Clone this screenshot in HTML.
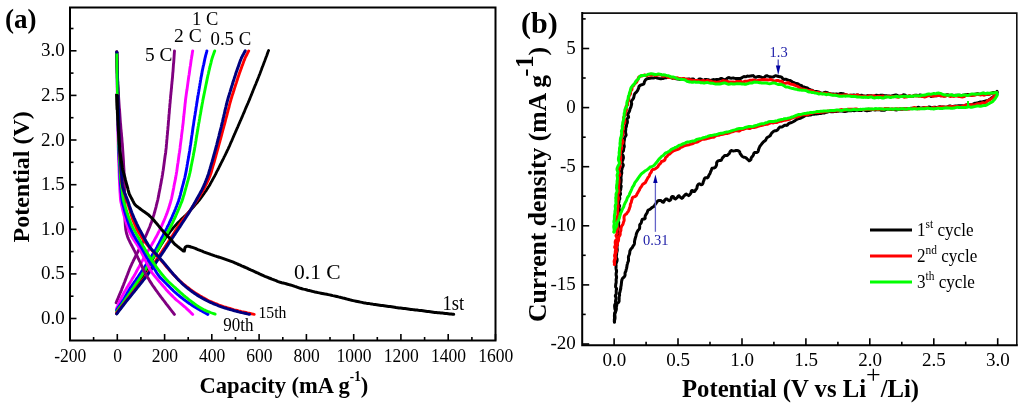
<!DOCTYPE html>
<html><head><meta charset="utf-8"><style>
html,body{margin:0;padding:0;background:#fff;width:1024px;height:407px;overflow:hidden}
svg{display:block;will-change:transform}
text{font-family:"Liberation Serif",serif;fill:#000}
</style></head><body>
<svg width="1024" height="407" viewBox="0 0 1024 407">
<rect x="70.0" y="7.5" width="425.5" height="333.0" fill="none" stroke="#000" stroke-width="2"/>
<line x1="70.0" y1="340.5" x2="70.0" y2="334.0" stroke="#000" stroke-width="1.6"/>
<text transform="translate(70.30,361.50) scale(0.950,1)" font-size="18.50" text-anchor="middle">-200</text>
<line x1="93.6" y1="340.5" x2="93.6" y2="337.0" stroke="#000" stroke-width="1.6"/>
<line x1="117.3" y1="340.5" x2="117.3" y2="334.0" stroke="#000" stroke-width="1.6"/>
<text transform="translate(117.58,361.50) scale(0.950,1)" font-size="18.50" text-anchor="middle">0</text>
<line x1="140.9" y1="340.5" x2="140.9" y2="337.0" stroke="#000" stroke-width="1.6"/>
<line x1="164.6" y1="340.5" x2="164.6" y2="334.0" stroke="#000" stroke-width="1.6"/>
<text transform="translate(164.86,361.50) scale(0.950,1)" font-size="18.50" text-anchor="middle">200</text>
<line x1="188.2" y1="340.5" x2="188.2" y2="337.0" stroke="#000" stroke-width="1.6"/>
<line x1="211.8" y1="340.5" x2="211.8" y2="334.0" stroke="#000" stroke-width="1.6"/>
<text transform="translate(212.13,361.50) scale(0.950,1)" font-size="18.50" text-anchor="middle">400</text>
<line x1="235.5" y1="340.5" x2="235.5" y2="337.0" stroke="#000" stroke-width="1.6"/>
<line x1="259.1" y1="340.5" x2="259.1" y2="334.0" stroke="#000" stroke-width="1.6"/>
<text transform="translate(259.41,361.50) scale(0.950,1)" font-size="18.50" text-anchor="middle">600</text>
<line x1="282.8" y1="340.5" x2="282.8" y2="337.0" stroke="#000" stroke-width="1.6"/>
<line x1="306.4" y1="340.5" x2="306.4" y2="334.0" stroke="#000" stroke-width="1.6"/>
<text transform="translate(306.69,361.50) scale(0.950,1)" font-size="18.50" text-anchor="middle">800</text>
<line x1="330.0" y1="340.5" x2="330.0" y2="337.0" stroke="#000" stroke-width="1.6"/>
<line x1="353.7" y1="340.5" x2="353.7" y2="334.0" stroke="#000" stroke-width="1.6"/>
<text transform="translate(353.97,361.50) scale(0.950,1)" font-size="18.50" text-anchor="middle">1000</text>
<line x1="377.3" y1="340.5" x2="377.3" y2="337.0" stroke="#000" stroke-width="1.6"/>
<line x1="400.9" y1="340.5" x2="400.9" y2="334.0" stroke="#000" stroke-width="1.6"/>
<text transform="translate(401.24,361.50) scale(0.950,1)" font-size="18.50" text-anchor="middle">1200</text>
<line x1="424.6" y1="340.5" x2="424.6" y2="337.0" stroke="#000" stroke-width="1.6"/>
<line x1="448.2" y1="340.5" x2="448.2" y2="334.0" stroke="#000" stroke-width="1.6"/>
<text transform="translate(448.52,361.50) scale(0.950,1)" font-size="18.50" text-anchor="middle">1400</text>
<line x1="471.9" y1="340.5" x2="471.9" y2="337.0" stroke="#000" stroke-width="1.6"/>
<line x1="495.5" y1="340.5" x2="495.5" y2="334.0" stroke="#000" stroke-width="1.6"/>
<text transform="translate(495.80,361.50) scale(0.950,1)" font-size="18.50" text-anchor="middle">1600</text>
<line x1="70.0" y1="318.5" x2="76.5" y2="318.5" stroke="#000" stroke-width="1.6"/>
<text transform="translate(64.80,324.00) scale(1.000,1)" font-size="19.00" text-anchor="end">0.0</text>
<line x1="70.0" y1="296.2" x2="73.5" y2="296.2" stroke="#000" stroke-width="1.6"/>
<line x1="70.0" y1="273.9" x2="76.5" y2="273.9" stroke="#000" stroke-width="1.6"/>
<text transform="translate(64.80,279.38) scale(1.000,1)" font-size="19.00" text-anchor="end">0.5</text>
<line x1="70.0" y1="251.6" x2="73.5" y2="251.6" stroke="#000" stroke-width="1.6"/>
<line x1="70.0" y1="229.3" x2="76.5" y2="229.3" stroke="#000" stroke-width="1.6"/>
<text transform="translate(64.80,234.77) scale(1.000,1)" font-size="19.00" text-anchor="end">1.0</text>
<line x1="70.0" y1="207.0" x2="73.5" y2="207.0" stroke="#000" stroke-width="1.6"/>
<line x1="70.0" y1="184.7" x2="76.5" y2="184.7" stroke="#000" stroke-width="1.6"/>
<text transform="translate(64.80,190.15) scale(1.000,1)" font-size="19.00" text-anchor="end">1.5</text>
<line x1="70.0" y1="162.3" x2="73.5" y2="162.3" stroke="#000" stroke-width="1.6"/>
<line x1="70.0" y1="140.0" x2="76.5" y2="140.0" stroke="#000" stroke-width="1.6"/>
<text transform="translate(64.80,145.53) scale(1.000,1)" font-size="19.00" text-anchor="end">2.0</text>
<line x1="70.0" y1="117.7" x2="73.5" y2="117.7" stroke="#000" stroke-width="1.6"/>
<line x1="70.0" y1="95.4" x2="76.5" y2="95.4" stroke="#000" stroke-width="1.6"/>
<text transform="translate(64.80,100.92) scale(1.000,1)" font-size="19.00" text-anchor="end">2.5</text>
<line x1="70.0" y1="73.1" x2="73.5" y2="73.1" stroke="#000" stroke-width="1.6"/>
<line x1="70.0" y1="50.8" x2="76.5" y2="50.8" stroke="#000" stroke-width="1.6"/>
<text transform="translate(64.80,56.30) scale(1.000,1)" font-size="19.00" text-anchor="end">3.0</text>
<line x1="70.0" y1="28.5" x2="73.5" y2="28.5" stroke="#000" stroke-width="1.6"/>
<path d="M582.2,13.1 L1016.8,13.1 L1016.8,345.2" fill="none" stroke="#111" stroke-width="1.6" stroke-linejoin="miter"/>
<path d="M582.2,13.1 L582.2,345.2 L1016.8,345.2" fill="none" stroke="#000" stroke-width="2" stroke-linecap="square"/>
<line x1="614.1" y1="345.2" x2="614.1" y2="338.2" stroke="#000" stroke-width="1.6"/>
<text transform="translate(614.30,366.30) scale(1.000,1)" font-size="19.00" text-anchor="middle">0.0</text>
<line x1="646.1" y1="345.2" x2="646.1" y2="341.7" stroke="#000" stroke-width="1.6"/>
<line x1="678.0" y1="345.2" x2="678.0" y2="338.2" stroke="#000" stroke-width="1.6"/>
<text transform="translate(678.23,366.30) scale(1.000,1)" font-size="19.00" text-anchor="middle">0.5</text>
<line x1="710.0" y1="345.2" x2="710.0" y2="341.7" stroke="#000" stroke-width="1.6"/>
<line x1="742.0" y1="345.2" x2="742.0" y2="338.2" stroke="#000" stroke-width="1.6"/>
<text transform="translate(742.17,366.30) scale(1.000,1)" font-size="19.00" text-anchor="middle">1.0</text>
<line x1="773.9" y1="345.2" x2="773.9" y2="341.7" stroke="#000" stroke-width="1.6"/>
<line x1="805.9" y1="345.2" x2="805.9" y2="338.2" stroke="#000" stroke-width="1.6"/>
<text transform="translate(806.10,366.30) scale(1.000,1)" font-size="19.00" text-anchor="middle">1.5</text>
<line x1="837.9" y1="345.2" x2="837.9" y2="341.7" stroke="#000" stroke-width="1.6"/>
<line x1="869.8" y1="345.2" x2="869.8" y2="338.2" stroke="#000" stroke-width="1.6"/>
<text transform="translate(870.03,366.30) scale(1.000,1)" font-size="19.00" text-anchor="middle">2.0</text>
<line x1="901.8" y1="345.2" x2="901.8" y2="341.7" stroke="#000" stroke-width="1.6"/>
<line x1="933.8" y1="345.2" x2="933.8" y2="338.2" stroke="#000" stroke-width="1.6"/>
<text transform="translate(933.97,366.30) scale(1.000,1)" font-size="19.00" text-anchor="middle">2.5</text>
<line x1="965.7" y1="345.2" x2="965.7" y2="341.7" stroke="#000" stroke-width="1.6"/>
<line x1="997.7" y1="345.2" x2="997.7" y2="338.2" stroke="#000" stroke-width="1.6"/>
<text transform="translate(997.90,366.30) scale(1.000,1)" font-size="19.00" text-anchor="middle">3.0</text>
<line x1="582.2" y1="344.0" x2="589.2" y2="344.0" stroke="#000" stroke-width="1.6"/>
<text transform="translate(575.80,349.40) scale(1.000,1)" font-size="19.00" text-anchor="end">-20</text>
<line x1="582.2" y1="314.4" x2="585.7" y2="314.4" stroke="#000" stroke-width="1.6"/>
<line x1="582.2" y1="284.9" x2="589.2" y2="284.9" stroke="#000" stroke-width="1.6"/>
<text transform="translate(575.80,290.30) scale(1.000,1)" font-size="19.00" text-anchor="end">-15</text>
<line x1="582.2" y1="255.3" x2="585.7" y2="255.3" stroke="#000" stroke-width="1.6"/>
<line x1="582.2" y1="225.8" x2="589.2" y2="225.8" stroke="#000" stroke-width="1.6"/>
<text transform="translate(575.80,231.20) scale(1.000,1)" font-size="19.00" text-anchor="end">-10</text>
<line x1="582.2" y1="196.2" x2="585.7" y2="196.2" stroke="#000" stroke-width="1.6"/>
<line x1="582.2" y1="166.7" x2="589.2" y2="166.7" stroke="#000" stroke-width="1.6"/>
<text transform="translate(575.80,172.10) scale(1.000,1)" font-size="19.00" text-anchor="end">-5</text>
<line x1="582.2" y1="137.2" x2="585.7" y2="137.2" stroke="#000" stroke-width="1.6"/>
<line x1="582.2" y1="107.6" x2="589.2" y2="107.6" stroke="#000" stroke-width="1.6"/>
<text transform="translate(575.80,113.00) scale(1.000,1)" font-size="19.00" text-anchor="end">0</text>
<line x1="582.2" y1="78.0" x2="585.7" y2="78.0" stroke="#000" stroke-width="1.6"/>
<line x1="582.2" y1="48.5" x2="589.2" y2="48.5" stroke="#000" stroke-width="1.6"/>
<text transform="translate(575.80,53.90) scale(1.000,1)" font-size="19.00" text-anchor="end">5</text>
<line x1="582.2" y1="18.9" x2="585.7" y2="18.9" stroke="#000" stroke-width="1.6"/>
<path d="M116.7,313.8 L117.5,312.6 L118.4,311.3 L119.2,310.1 L120.1,308.8 L120.9,307.6 L121.8,306.3 L122.6,305.1 L123.4,303.8 L124.3,302.6 L125.1,301.4 L126.0,300.1 L126.9,298.9 L127.7,297.6 L128.6,296.4 L129.4,295.2 L130.3,293.9 L131.1,292.7 L132.0,291.5 L132.9,290.2 L133.7,289.0 L134.6,287.7 L135.4,286.5 L136.3,285.3 L137.2,284.1 L138.0,282.8 L138.9,281.6 L139.8,280.4 L140.6,279.1 L141.5,277.9 L142.3,276.6 L143.1,275.4 L143.9,274.1 L144.7,272.8 L145.5,271.5 L146.2,270.2 L147.0,268.9 L147.8,267.6 L148.5,266.3 L149.3,265.0 L150.0,263.7 L150.8,262.4 L151.5,261.1 L152.3,259.8 L153.0,258.5 L153.8,257.2 L154.6,255.9 L155.3,254.6 L156.1,253.3 L156.8,252.0 L157.6,250.7 L158.4,249.4 L159.2,248.1 L159.9,246.9 L160.7,245.6 L161.5,244.3 L162.3,243.0 L163.1,241.7 L163.9,240.5 L164.7,239.2 L165.5,237.9 L166.4,236.7 L167.3,235.5 L168.2,234.3 L169.1,233.1 L170.0,231.9 L171.0,230.7 L171.9,229.6 L172.8,228.4 L173.8,227.2 L174.8,226.1 L175.8,225.0 L176.8,223.9 L177.8,222.8 L178.9,221.7 L180.0,220.7 L181.1,219.6 L182.1,218.6 L183.2,217.6 L184.3,216.5 L185.4,215.5 L186.5,214.4 L187.5,213.4 L188.6,212.3 L189.6,211.2 L190.6,210.1 L191.6,209.0 L192.6,207.8 L193.6,206.7 L194.6,205.6 L195.6,204.4 L196.6,203.3 L197.6,202.2 L198.5,201.0 L199.5,199.8 L200.4,198.6 L201.3,197.4 L202.2,196.2 L203.0,195.0 L203.9,193.8 L204.8,192.5 L205.6,191.3 L206.5,190.1 L207.3,188.8 L208.1,187.5 L208.9,186.3 L209.7,185.0 L210.4,183.6 L211.1,182.3 L211.9,181.0 L212.6,179.7 L213.3,178.4 L214.0,177.1 L214.8,175.7 L215.5,174.4 L216.1,173.1 L216.8,171.7 L217.5,170.4 L218.2,169.0 L218.9,167.7 L219.5,166.4 L220.2,165.0 L220.9,163.7 L221.5,162.3 L222.2,161.0 L222.9,159.6 L223.6,158.3 L224.2,156.9 L224.9,155.6 L225.6,154.2 L226.2,152.9 L226.9,151.5 L227.5,150.2 L228.2,148.8 L228.8,147.4 L229.4,146.1 L230.0,144.7 L230.6,143.3 L231.2,141.9 L231.8,140.6 L232.4,139.2 L233.0,137.8 L233.6,136.4 L234.2,135.0 L234.8,133.7 L235.4,132.3 L236.0,130.9 L236.6,129.5 L237.2,128.1 L237.8,126.8 L238.4,125.4 L239.0,124.0 L239.6,122.6 L240.2,121.2 L240.8,119.9 L241.4,118.5 L242.0,117.1 L242.6,115.7 L243.2,114.3 L243.8,112.9 L244.4,111.6 L244.9,110.2 L245.5,108.8 L246.1,107.4 L246.7,106.0 L247.3,104.6 L247.9,103.3 L248.5,101.9 L249.1,100.5 L249.7,99.1 L250.2,97.7 L250.8,96.3 L251.4,94.9 L251.9,93.5 L252.5,92.1 L253.0,90.7 L253.6,89.3 L254.2,87.9 L254.7,86.5 L255.3,85.1 L255.9,83.8 L256.4,82.4 L257.0,81.0 L257.6,79.6 L258.1,78.2 L258.7,76.8 L259.2,75.4 L259.8,74.0 L260.3,72.6 L260.8,71.2 L261.4,69.8 L261.9,68.3 L262.4,66.9 L263.0,65.5 L263.5,64.1 L264.0,62.7 L264.6,61.3 L265.1,59.9 L265.6,58.5 L266.1,57.1 L266.7,55.7 L267.2,54.3 L267.7,52.8 L268.2,51.4 L268.6,50.5" fill="none" stroke="#000" stroke-width="2.8" stroke-linecap="round" stroke-linejoin="round"/>
<path d="M116.1,302.7 L116.7,301.3 L117.3,299.9 L117.9,298.5 L118.5,297.2 L119.0,295.8 L119.6,294.4 L120.2,293.0 L120.8,291.6 L121.4,290.2 L121.9,288.8 L122.5,287.4 L123.0,286.0 L123.6,284.6 L124.1,283.2 L124.7,281.8 L125.2,280.4 L125.7,279.0 L126.3,277.6 L126.8,276.2 L127.4,274.8 L127.9,273.4 L128.4,272.0 L129.0,270.6 L129.5,269.2 L130.1,267.8 L130.7,266.4 L131.3,265.1 L131.9,263.7 L132.6,262.3 L133.2,261.0 L133.9,259.6 L134.6,258.3 L135.2,257.0 L135.9,255.6 L136.6,254.3 L137.3,252.9 L138.0,251.6 L138.6,250.2 L139.3,248.9 L140.0,247.6 L140.7,246.2 L141.4,244.9 L142.0,243.5 L142.7,242.2 L143.4,240.8 L144.0,239.5 L144.7,238.1 L145.4,236.8 L146.0,235.4 L146.6,234.1 L147.2,232.7 L147.8,231.3 L148.4,229.9 L149.0,228.5 L149.6,227.1 L150.1,225.8 L150.6,224.3 L151.2,222.9 L151.7,221.5 L152.1,220.1 L152.6,218.7 L153.1,217.2 L153.5,215.8 L154.0,214.4 L154.4,212.9 L154.8,211.5 L155.2,210.0 L155.6,208.6 L156.0,207.1 L156.3,205.7 L156.7,204.2 L157.1,202.7 L157.4,201.3 L157.8,199.8 L158.1,198.3 L158.4,196.9 L158.7,195.4 L158.9,193.9 L159.2,192.4 L159.5,191.0 L159.8,189.5 L160.1,188.0 L160.3,186.5 L160.6,185.1 L160.9,183.6 L161.2,182.1 L161.4,180.6 L161.7,179.1 L162.0,177.7 L162.2,176.2 L162.5,174.7 L162.7,173.2 L162.9,171.7 L163.2,170.2 L163.4,168.7 L163.6,167.3 L163.8,165.8 L164.0,164.3 L164.2,162.8 L164.4,161.3 L164.6,159.8 L164.8,158.3 L165.0,156.8 L165.2,155.3 L165.5,153.9 L165.7,152.4 L165.8,150.9 L166.0,149.4 L166.2,147.9 L166.3,146.4 L166.4,144.9 L166.6,143.4 L166.7,141.9 L166.8,140.4 L167.0,138.9 L167.1,137.4 L167.2,135.9 L167.4,134.4 L167.5,132.9 L167.6,131.4 L167.8,129.9 L167.9,128.4 L168.0,126.9 L168.2,125.4 L168.3,123.9 L168.4,122.4 L168.5,120.9 L168.7,119.4 L168.8,117.9 L168.9,116.4 L169.0,114.9 L169.2,113.4 L169.3,111.9 L169.4,110.4 L169.5,108.9 L169.7,107.4 L169.8,105.9 L169.9,104.4 L170.1,102.9 L170.2,101.4 L170.3,99.9 L170.5,98.4 L170.6,96.9 L170.7,95.5 L170.9,94.0 L171.0,92.5 L171.2,91.0 L171.3,89.5 L171.5,88.0 L171.6,86.5 L171.7,85.0 L171.9,83.5 L172.0,82.0 L172.2,80.5 L172.3,79.0 L172.5,77.5 L172.6,76.0 L172.7,74.5 L172.8,73.0 L173.0,71.5 L173.1,70.0 L173.2,68.5 L173.3,67.0 L173.4,65.5 L173.5,64.0 L173.7,62.5 L173.8,61.0 L173.9,59.5 L174.0,58.0 L174.1,56.5 L174.2,55.0 L174.3,53.5 L174.4,52.0 L174.5,51.0" fill="none" stroke="#800080" stroke-width="2.9" stroke-linecap="round" stroke-linejoin="round"/>
<path d="M116.7,308.3 L117.3,306.9 L117.9,305.5 L118.4,304.1 L119.0,302.7 L119.6,301.4 L120.2,300.0 L120.9,298.6 L121.5,297.3 L122.2,296.0 L123.0,294.6 L123.7,293.3 L124.4,292.0 L125.2,290.7 L126.0,289.4 L126.7,288.1 L127.5,286.8 L128.3,285.6 L129.0,284.3 L129.8,283.0 L130.6,281.7 L131.4,280.4 L132.1,279.1 L132.9,277.8 L133.7,276.5 L134.4,275.2 L135.2,273.9 L135.9,272.6 L136.6,271.3 L137.3,269.9 L138.0,268.6 L138.8,267.3 L139.5,266.0 L140.2,264.6 L140.9,263.3 L141.6,262.0 L142.4,260.7 L143.1,259.4 L143.9,258.1 L144.7,256.8 L145.4,255.5 L146.2,254.2 L147.0,252.9 L147.7,251.6 L148.5,250.3 L149.3,249.0 L150.0,247.7 L150.8,246.4 L151.5,245.1 L152.3,243.8 L153.0,242.5 L153.8,241.2 L154.5,239.9 L155.2,238.6 L156.0,237.3 L156.7,235.9 L157.4,234.6 L158.1,233.3 L158.7,231.9 L159.4,230.6 L160.1,229.2 L160.7,227.9 L161.4,226.5 L162.0,225.2 L162.6,223.8 L163.2,222.4 L163.8,221.0 L164.4,219.6 L165.0,218.2 L165.5,216.8 L166.1,215.5 L166.6,214.1 L167.2,212.6 L167.7,211.2 L168.2,209.8 L168.6,208.4 L169.1,207.0 L169.5,205.5 L170.0,204.1 L170.4,202.6 L170.8,201.2 L171.2,199.7 L171.6,198.3 L171.9,196.8 L172.2,195.3 L172.5,193.9 L172.8,192.4 L173.1,190.9 L173.4,189.4 L173.7,188.0 L173.9,186.5 L174.2,185.0 L174.5,183.5 L174.8,182.1 L175.1,180.6 L175.4,179.1 L175.7,177.6 L175.9,176.1 L176.2,174.7 L176.4,173.2 L176.7,171.7 L176.9,170.2 L177.1,168.7 L177.3,167.2 L177.5,165.7 L177.7,164.2 L178.0,162.8 L178.2,161.3 L178.4,159.8 L178.6,158.3 L178.8,156.8 L179.0,155.3 L179.2,153.8 L179.5,152.3 L179.7,150.8 L179.9,149.4 L180.1,147.9 L180.2,146.4 L180.4,144.9 L180.6,143.4 L180.8,141.9 L181.0,140.4 L181.2,138.9 L181.4,137.4 L181.5,135.9 L181.7,134.4 L181.9,132.9 L182.1,131.4 L182.3,129.9 L182.5,128.4 L182.6,127.0 L182.8,125.5 L183.0,124.0 L183.2,122.5 L183.3,121.0 L183.5,119.5 L183.6,118.0 L183.8,116.5 L183.9,115.0 L184.1,113.5 L184.3,112.0 L184.4,110.5 L184.6,109.0 L184.7,107.5 L184.9,106.0 L185.0,104.5 L185.2,103.0 L185.4,101.5 L185.5,100.0 L185.7,98.5 L185.9,97.0 L186.1,95.6 L186.3,94.1 L186.5,92.6 L186.7,91.1 L187.0,89.6 L187.2,88.1 L187.4,86.6 L187.6,85.1 L187.8,83.6 L188.0,82.1 L188.2,80.7 L188.4,79.2 L188.6,77.7 L188.8,76.2 L189.1,74.7 L189.3,73.2 L189.5,71.7 L189.7,70.2 L189.9,68.7 L190.1,67.3 L190.4,65.8 L190.6,64.3 L190.8,62.8 L191.0,61.3 L191.2,59.8 L191.5,58.3 L191.7,56.8 L192.0,55.4 L192.2,53.9 L192.4,52.4 L192.7,50.9" fill="none" stroke="#ff00ff" stroke-width="2.9" stroke-linecap="round" stroke-linejoin="round"/>
<path d="M116.5,310.1 L117.4,308.9 L118.2,307.6 L119.1,306.4 L119.9,305.2 L120.8,303.9 L121.6,302.7 L122.4,301.4 L123.3,300.1 L124.0,298.9 L124.8,297.6 L125.5,296.2 L126.2,294.9 L127.0,293.6 L127.7,292.3 L128.5,291.0 L129.2,289.7 L130.0,288.4 L130.9,287.2 L131.7,286.0 L132.6,284.7 L133.4,283.5 L134.3,282.2 L135.1,281.0 L136.0,279.8 L136.8,278.5 L137.7,277.3 L138.6,276.0 L139.4,274.8 L140.2,273.6 L141.1,272.3 L141.9,271.0 L142.7,269.8 L143.5,268.5 L144.4,267.3 L145.2,266.0 L146.0,264.7 L146.8,263.5 L147.6,262.2 L148.5,261.0 L149.3,259.7 L150.1,258.4 L150.9,257.2 L151.7,255.9 L152.5,254.6 L153.3,253.4 L154.1,252.1 L154.9,250.8 L155.7,249.5 L156.4,248.2 L157.1,246.9 L157.8,245.5 L158.5,244.2 L159.2,242.9 L159.9,241.5 L160.6,240.2 L161.2,238.8 L161.9,237.5 L162.6,236.2 L163.3,234.8 L164.0,233.5 L164.7,232.2 L165.4,230.8 L166.1,229.5 L166.8,228.1 L167.4,226.8 L168.1,225.5 L168.8,224.1 L169.4,222.7 L170.0,221.4 L170.7,220.0 L171.3,218.6 L171.9,217.3 L172.5,215.9 L173.1,214.5 L173.7,213.1 L174.3,211.8 L174.9,210.4 L175.5,209.0 L176.0,207.6 L176.6,206.2 L177.1,204.8 L177.7,203.4 L178.2,202.0 L178.7,200.5 L179.1,199.1 L179.6,197.7 L180.0,196.2 L180.4,194.8 L180.7,193.3 L181.1,191.9 L181.5,190.4 L181.9,189.0 L182.2,187.5 L182.6,186.0 L183.0,184.6 L183.4,183.1 L183.8,181.7 L184.1,180.2 L184.5,178.8 L184.9,177.3 L185.2,175.8 L185.5,174.4 L185.8,172.9 L186.1,171.4 L186.4,169.9 L186.6,168.5 L186.9,167.0 L187.1,165.5 L187.4,164.0 L187.6,162.5 L187.9,161.0 L188.2,159.6 L188.4,158.1 L188.7,156.6 L188.9,155.1 L189.2,153.6 L189.4,152.1 L189.7,150.7 L189.9,149.2 L190.1,147.7 L190.3,146.2 L190.6,144.7 L190.8,143.2 L191.0,141.7 L191.2,140.2 L191.4,138.8 L191.6,137.3 L191.8,135.8 L192.1,134.3 L192.3,132.8 L192.5,131.3 L192.7,129.8 L192.9,128.3 L193.1,126.8 L193.4,125.4 L193.6,123.9 L193.8,122.4 L194.0,120.9 L194.3,119.4 L194.5,117.9 L194.7,116.4 L195.0,115.0 L195.2,113.5 L195.4,112.0 L195.7,110.5 L195.9,109.0 L196.1,107.5 L196.4,106.0 L196.6,104.5 L196.8,103.1 L197.1,101.6 L197.3,100.1 L197.5,98.6 L197.8,97.1 L198.0,95.6 L198.3,94.2 L198.5,92.7 L198.8,91.2 L199.0,89.7 L199.3,88.2 L199.5,86.7 L199.8,85.3 L200.0,83.8 L200.3,82.3 L200.5,80.8 L200.8,79.3 L201.0,77.8 L201.3,76.4 L201.6,74.9 L201.9,73.4 L202.1,71.9 L202.4,70.4 L202.7,69.0 L203.0,67.5 L203.3,66.0 L203.7,64.6 L204.0,63.1 L204.3,61.6 L204.6,60.1 L204.9,58.7 L205.3,57.2 L205.6,55.7 L206.0,54.3 L206.4,52.8 L206.8,51.4 L206.9,50.9" fill="none" stroke="#0000ff" stroke-width="2.9" stroke-linecap="round" stroke-linejoin="round"/>
<path d="M116.7,311.5 L117.6,310.3 L118.5,309.1 L119.4,307.9 L120.3,306.7 L121.2,305.5 L122.1,304.3 L123.0,303.0 L123.8,301.8 L124.7,300.6 L125.6,299.4 L126.4,298.1 L127.3,296.9 L128.1,295.7 L129.0,294.4 L129.8,293.2 L130.7,291.9 L131.5,290.7 L132.4,289.4 L133.2,288.2 L134.0,287.0 L134.9,285.7 L135.7,284.4 L136.5,283.2 L137.4,281.9 L138.2,280.7 L139.0,279.4 L139.9,278.2 L140.7,276.9 L141.5,275.7 L142.3,274.4 L143.2,273.2 L144.0,271.9 L144.8,270.6 L145.6,269.4 L146.4,268.1 L147.2,266.8 L148.0,265.6 L148.8,264.3 L149.6,263.0 L150.4,261.8 L151.2,260.5 L152.0,259.2 L152.8,257.9 L153.6,256.7 L154.4,255.4 L155.2,254.1 L156.0,252.8 L156.8,251.6 L157.6,250.3 L158.3,249.0 L159.1,247.7 L159.8,246.4 L160.5,245.0 L161.3,243.7 L162.0,242.4 L162.7,241.1 L163.5,239.8 L164.2,238.5 L164.9,237.2 L165.6,235.8 L166.4,234.5 L167.1,233.2 L167.8,231.9 L168.5,230.6 L169.3,229.3 L170.0,227.9 L170.7,226.6 L171.4,225.3 L172.0,223.9 L172.7,222.6 L173.3,221.2 L173.9,219.8 L174.6,218.5 L175.2,217.1 L175.8,215.7 L176.4,214.4 L177.0,213.0 L177.6,211.6 L178.2,210.2 L178.8,208.9 L179.4,207.5 L180.0,206.1 L180.5,204.7 L181.1,203.3 L181.7,201.9 L182.2,200.5 L182.7,199.1 L183.1,197.6 L183.5,196.2 L184.0,194.8 L184.4,193.3 L184.8,191.9 L185.2,190.4 L185.6,189.0 L186.0,187.5 L186.4,186.1 L186.8,184.6 L187.2,183.2 L187.6,181.7 L188.0,180.3 L188.4,178.8 L188.8,177.4 L189.2,175.9 L189.5,174.5 L189.9,173.0 L190.2,171.5 L190.5,170.1 L190.8,168.6 L191.0,167.1 L191.3,165.6 L191.6,164.2 L191.9,162.7 L192.2,161.2 L192.5,159.7 L192.8,158.3 L193.1,156.8 L193.4,155.3 L193.6,153.8 L193.9,152.4 L194.2,150.9 L194.5,149.4 L194.7,147.9 L195.0,146.5 L195.2,145.0 L195.5,143.5 L195.7,142.0 L196.0,140.5 L196.2,139.0 L196.4,137.6 L196.7,136.1 L196.9,134.6 L197.2,133.1 L197.4,131.6 L197.7,130.1 L197.9,128.7 L198.1,127.2 L198.4,125.7 L198.6,124.2 L198.9,122.7 L199.2,121.2 L199.4,119.8 L199.7,118.3 L199.9,116.8 L200.2,115.3 L200.5,113.8 L200.7,112.4 L201.0,110.9 L201.2,109.4 L201.5,107.9 L201.8,106.4 L202.0,105.0 L202.3,103.5 L202.6,102.0 L202.8,100.5 L203.1,99.1 L203.4,97.6 L203.7,96.1 L204.0,94.6 L204.3,93.2 L204.6,91.7 L204.9,90.2 L205.2,88.7 L205.5,87.3 L205.8,85.8 L206.1,84.3 L206.4,82.9 L206.7,81.4 L207.0,79.9 L207.3,78.4 L207.6,77.0 L207.9,75.5 L208.3,74.0 L208.6,72.6 L208.9,71.1 L209.3,69.6 L209.6,68.2 L210.0,66.7 L210.3,65.3 L210.7,63.8 L211.1,62.3 L211.4,60.9 L211.8,59.4 L212.2,58.0 L212.7,56.6 L213.2,55.1 L213.7,53.7 L214.2,52.3 L214.7,50.9" fill="none" stroke="#00ff00" stroke-width="2.9" stroke-linecap="round" stroke-linejoin="round"/>
<path d="M116.5,313.0 L117.4,311.8 L118.4,310.7 L119.3,309.5 L120.3,308.3 L121.2,307.1 L122.1,305.9 L123.1,304.8 L124.0,303.6 L124.9,302.4 L125.9,301.2 L126.8,300.1 L127.7,298.9 L128.7,297.7 L129.6,296.5 L130.5,295.3 L131.5,294.1 L132.4,293.0 L133.3,291.8 L134.2,290.6 L135.2,289.4 L136.1,288.2 L137.0,287.0 L138.0,285.9 L138.9,284.7 L139.8,283.5 L140.8,282.3 L141.7,281.1 L142.6,279.9 L143.5,278.8 L144.5,277.6 L145.4,276.4 L146.3,275.2 L147.1,273.9 L148.0,272.7 L148.8,271.4 L149.6,270.2 L150.5,268.9 L151.3,267.7 L152.1,266.4 L152.9,265.2 L153.8,263.9 L154.6,262.6 L155.4,261.4 L156.3,260.1 L157.1,258.9 L157.9,257.6 L158.8,256.4 L159.6,255.1 L160.4,253.9 L161.3,252.6 L162.1,251.4 L162.9,250.1 L163.7,248.8 L164.6,247.6 L165.4,246.3 L166.2,245.1 L167.0,243.8 L167.9,242.6 L168.7,241.3 L169.5,240.0 L170.3,238.8 L171.1,237.5 L172.0,236.2 L172.8,235.0 L173.6,233.7 L174.4,232.4 L175.2,231.1 L176.0,229.9 L176.8,228.6 L177.6,227.3 L178.4,226.1 L179.3,224.8 L180.1,223.6 L181.0,222.4 L181.9,221.2 L182.8,220.0 L183.8,218.8 L184.7,217.6 L185.6,216.4 L186.5,215.2 L187.4,214.0 L188.3,212.8 L189.2,211.6 L190.1,210.4 L190.9,209.2 L191.8,207.9 L192.7,206.7 L193.5,205.5 L194.4,204.2 L195.2,203.0 L196.1,201.7 L196.9,200.5 L197.7,199.2 L198.5,197.9 L199.3,196.7 L200.1,195.4 L200.8,194.1 L201.6,192.8 L202.4,191.5 L203.1,190.2 L203.9,188.9 L204.6,187.6 L205.3,186.2 L205.9,184.9 L206.6,183.5 L207.2,182.1 L207.8,180.8 L208.5,179.4 L209.1,178.0 L209.7,176.7 L210.2,175.3 L210.7,173.8 L211.2,172.4 L211.6,171.0 L212.0,169.5 L212.4,168.1 L212.8,166.6 L213.2,165.2 L213.7,163.7 L214.1,162.3 L214.5,160.8 L214.9,159.4 L215.3,157.9 L215.7,156.5 L216.1,155.0 L216.5,153.6 L216.9,152.2 L217.3,150.7 L217.7,149.3 L218.1,147.8 L218.5,146.3 L218.9,144.9 L219.3,143.4 L219.7,142.0 L220.1,140.5 L220.5,139.1 L220.9,137.6 L221.3,136.2 L221.7,134.7 L222.0,133.3 L222.4,131.8 L222.8,130.4 L223.2,128.9 L223.6,127.5 L224.0,126.0 L224.4,124.6 L224.8,123.1 L225.2,121.7 L225.5,120.2 L225.9,118.7 L226.3,117.3 L226.7,115.8 L227.1,114.4 L227.4,112.9 L227.8,111.5 L228.2,110.0 L228.6,108.6 L229.0,107.1 L229.3,105.6 L229.7,104.2 L230.1,102.7 L230.5,101.3 L230.9,99.8 L231.3,98.4 L231.8,97.0 L232.2,95.5 L232.7,94.1 L233.2,92.7 L233.6,91.2 L234.1,89.8 L234.5,88.4 L235.0,86.9 L235.4,85.5 L235.9,84.1 L236.4,82.6 L236.8,81.2 L237.3,79.8 L237.7,78.3 L238.2,76.9 L238.7,75.5 L239.2,74.0 L239.7,72.6 L240.2,71.2 L240.7,69.8 L241.2,68.4 L241.7,67.0 L242.2,65.6 L242.8,64.1 L243.3,62.7 L243.8,61.3 L244.4,59.9 L244.9,58.5 L245.5,57.2 L246.2,55.8 L246.9,54.5 L247.5,53.1 L248.2,51.8 L248.7,50.9" fill="none" stroke="#ff0000" stroke-width="2.9" stroke-linecap="round" stroke-linejoin="round"/>
<path d="M116.7,313.8 L117.6,312.6 L118.5,311.4 L119.4,310.2 L120.4,309.0 L121.3,307.8 L122.2,306.7 L123.1,305.5 L124.0,304.3 L125.0,303.1 L125.9,301.9 L126.8,300.7 L127.8,299.6 L128.7,298.4 L129.7,297.2 L130.6,296.1 L131.6,294.9 L132.5,293.7 L133.4,292.5 L134.4,291.4 L135.3,290.2 L136.3,289.0 L137.2,287.9 L138.1,286.7 L139.1,285.5 L140.0,284.3 L141.0,283.2 L141.9,282.0 L142.8,280.8 L143.8,279.6 L144.7,278.5 L145.6,277.3 L146.6,276.1 L147.5,274.9 L148.3,273.7 L149.2,272.5 L150.1,271.2 L150.9,270.0 L151.7,268.7 L152.6,267.5 L153.4,266.2 L154.3,265.0 L155.1,263.8 L156.0,262.5 L156.8,261.3 L157.7,260.0 L158.5,258.8 L159.3,257.5 L160.2,256.3 L161.0,255.1 L161.9,253.8 L162.7,252.6 L163.6,251.3 L164.4,250.1 L165.2,248.8 L166.1,247.6 L166.9,246.3 L167.7,245.1 L168.5,243.8 L169.4,242.5 L170.2,241.3 L171.0,240.0 L171.8,238.8 L172.7,237.5 L173.5,236.3 L174.3,235.0 L175.2,233.8 L176.0,232.5 L176.8,231.3 L177.7,230.0 L178.5,228.8 L179.3,227.5 L180.2,226.3 L181.0,225.0 L181.8,223.7 L182.6,222.5 L183.5,221.2 L184.3,220.0 L185.1,218.7 L185.9,217.5 L186.7,216.2 L187.6,214.9 L188.4,213.7 L189.2,212.4 L189.9,211.1 L190.7,209.8 L191.5,208.5 L192.2,207.2 L193.0,205.9 L193.7,204.6 L194.4,203.3 L195.2,202.0 L195.9,200.7 L196.6,199.4 L197.4,198.1 L198.1,196.7 L198.9,195.4 L199.6,194.1 L200.3,192.8 L201.0,191.5 L201.7,190.2 L202.4,188.8 L203.1,187.5 L203.7,186.1 L204.3,184.7 L204.9,183.3 L205.4,181.9 L206.0,180.5 L206.5,179.2 L207.1,177.8 L207.6,176.3 L208.1,174.9 L208.6,173.5 L209.0,172.1 L209.4,170.6 L209.9,169.2 L210.3,167.7 L210.7,166.3 L211.1,164.9 L211.5,163.4 L212.0,162.0 L212.4,160.5 L212.8,159.1 L213.2,157.6 L213.6,156.2 L214.0,154.7 L214.4,153.3 L214.8,151.9 L215.2,150.4 L215.6,149.0 L216.0,147.5 L216.4,146.0 L216.8,144.6 L217.1,143.1 L217.5,141.7 L217.9,140.2 L218.2,138.8 L218.6,137.3 L219.0,135.8 L219.3,134.4 L219.7,132.9 L220.1,131.5 L220.4,130.0 L220.8,128.6 L221.2,127.1 L221.5,125.6 L221.9,124.2 L222.2,122.7 L222.6,121.3 L222.9,119.8 L223.2,118.3 L223.6,116.9 L223.9,115.4 L224.3,113.9 L224.6,112.5 L224.9,111.0 L225.3,109.5 L225.6,108.1 L226.0,106.6 L226.3,105.1 L226.7,103.7 L227.0,102.2 L227.4,100.8 L227.8,99.3 L228.2,97.9 L228.6,96.4 L229.1,95.0 L229.5,93.6 L230.0,92.1 L230.4,90.7 L230.9,89.3 L231.3,87.8 L231.7,86.4 L232.2,85.0 L232.6,83.5 L233.1,82.1 L233.5,80.7 L234.0,79.2 L234.4,77.8 L234.9,76.4 L235.4,74.9 L235.8,73.5 L236.3,72.1 L236.8,70.7 L237.3,69.2 L237.8,67.8 L238.3,66.4 L238.8,65.0 L239.3,63.6 L239.8,62.1 L240.3,60.7 L240.9,59.3 L241.4,58.0 L242.1,56.6 L242.8,55.3 L243.5,54.0 L244.2,52.6 L245.0,51.3 L245.2,50.9" fill="none" stroke="#000080" stroke-width="3.0" stroke-linecap="round" stroke-linejoin="round"/>
<path d="M116.8,52.0 L116.8,53.5 L116.9,55.0 L116.9,56.5 L117.0,58.0 L117.0,59.5 L117.0,61.0 L117.1,62.5 L117.1,64.0 L117.1,65.5 L117.2,67.0 L117.2,68.5 L117.3,70.1 L117.3,71.6 L117.3,73.1 L117.4,74.6 L117.4,76.1 L117.5,77.6 L117.5,79.1 L117.6,80.6 L117.7,82.1 L117.7,83.6 L117.8,85.1 L117.9,86.6 L118.0,88.1 L118.1,89.6 L118.2,91.1 L118.3,92.6 L118.4,94.1 L118.5,95.6 L118.6,97.1 L118.7,98.6 L118.8,100.1 L118.9,101.6 L119.0,103.1 L119.1,104.6 L119.2,106.1 L119.3,107.6 L119.5,109.1 L119.6,110.6 L119.7,112.1 L119.8,113.6 L119.9,115.1 L120.0,116.6 L120.1,118.1 L120.2,119.6 L120.3,121.1 L120.4,122.6 L120.6,124.1 L120.7,125.6 L120.8,127.1 L120.9,128.6 L121.1,130.1 L121.2,131.6 L121.4,133.1 L121.5,134.6 L121.6,136.1 L121.8,137.6 L121.9,139.1 L122.0,140.6 L122.1,142.1 L122.3,143.6 L122.4,145.1 L122.5,146.6 L122.6,148.1 L122.7,149.6 L122.8,151.1 L122.9,152.6 L123.0,154.1 L123.1,155.6 L123.2,157.1 L123.3,158.6 L123.4,160.1 L123.5,161.6 L123.5,163.1 L123.6,164.6 L123.7,166.1 L123.8,167.6 L123.9,169.1 L124.0,170.7 L124.0,172.2 L124.1,173.7 L124.2,175.2 L124.2,176.7 L124.3,178.2 L124.3,179.7 L124.3,181.2 L124.4,182.7 L124.4,184.2 L124.5,185.7 L124.5,187.2 L124.5,188.7 L124.6,190.2 L124.6,191.7 L124.6,193.2 L124.7,194.7 L124.7,196.2 L124.7,197.7 L124.8,199.2 L124.8,200.7 L124.8,202.2 L124.8,203.7 L124.8,205.3 L124.9,206.8 L124.9,208.3 L124.9,209.8 L124.9,211.3 L124.9,212.8 L124.9,214.3 L124.9,215.8 L125.0,217.3 L125.0,218.8 L125.0,220.3 L125.1,221.8 L125.2,223.3 L125.3,224.8 L125.4,226.3 L125.6,227.8 L125.7,229.3 L126.0,230.8 L126.3,232.2 L126.6,233.7 L127.1,235.1 L127.5,236.5 L128.0,237.9 L128.6,239.3 L129.3,240.7 L129.9,242.0 L130.6,243.4 L131.3,244.7 L132.0,246.0 L132.7,247.4 L133.4,248.7 L134.1,250.1 L134.8,251.4 L135.4,252.7 L136.1,254.1 L136.8,255.4 L137.5,256.8 L138.1,258.1 L138.8,259.5 L139.4,260.8 L140.1,262.2 L140.7,263.6 L141.3,264.9 L141.9,266.3 L142.5,267.7 L143.2,269.1 L143.8,270.4 L144.5,271.8 L145.2,273.1 L145.9,274.4 L146.7,275.7 L147.4,277.0 L148.2,278.3 L149.0,279.6 L149.7,280.9 L150.5,282.1 L151.4,283.4 L152.2,284.7 L153.0,285.9 L153.9,287.1 L154.8,288.4 L155.6,289.6 L156.5,290.8 L157.4,292.0 L158.3,293.3 L159.2,294.5 L160.0,295.7 L160.9,296.9 L161.9,298.1 L162.8,299.3 L163.7,300.5 L164.6,301.7 L165.5,302.9 L166.4,304.1 L167.4,305.3 L168.3,306.5 L169.2,307.6 L170.1,308.8 L171.0,310.0 L171.9,311.2 L172.9,312.4 L173.8,313.6 L174.4,314.4" fill="none" stroke="#800080" stroke-width="2.9" stroke-linecap="round" stroke-linejoin="round"/>
<path d="M116.8,52.0 L116.8,53.5 L116.8,55.0 L116.9,56.5 L116.9,58.0 L116.9,59.5 L116.9,61.0 L116.9,62.5 L117.0,64.0 L117.0,65.5 L117.0,67.0 L117.0,68.6 L117.0,70.1 L117.0,71.6 L117.1,73.1 L117.1,74.6 L117.1,76.1 L117.1,77.6 L117.1,79.1 L117.2,80.6 L117.2,82.1 L117.2,83.6 L117.2,85.1 L117.2,86.6 L117.3,88.1 L117.3,89.6 L117.3,91.1 L117.3,92.6 L117.3,94.1 L117.3,95.6 L117.4,97.1 L117.4,98.7 L117.4,100.2 L117.4,101.7 L117.5,103.2 L117.5,104.7 L117.5,106.2 L117.5,107.7 L117.6,109.2 L117.6,110.7 L117.6,112.2 L117.6,113.7 L117.7,115.2 L117.7,116.7 L117.7,118.2 L117.8,119.7 L117.8,121.2 L117.8,122.7 L117.8,124.2 L117.9,125.7 L117.9,127.2 L117.9,128.7 L117.9,130.2 L118.0,131.8 L118.0,133.3 L118.0,134.8 L118.1,136.3 L118.1,137.8 L118.1,139.3 L118.1,140.8 L118.2,142.3 L118.2,143.8 L118.2,145.3 L118.2,146.8 L118.3,148.3 L118.3,149.8 L118.4,151.3 L118.4,152.8 L118.5,154.3 L118.5,155.8 L118.6,157.3 L118.6,158.8 L118.7,160.3 L118.7,161.8 L118.8,163.3 L118.8,164.9 L118.9,166.4 L119.0,167.9 L119.0,169.4 L119.1,170.9 L119.1,172.4 L119.2,173.9 L119.2,175.4 L119.3,176.9 L119.3,178.4 L119.4,179.9 L119.5,181.4 L119.5,182.9 L119.6,184.4 L119.7,185.9 L119.8,187.4 L119.8,188.9 L119.9,190.4 L120.0,191.9 L120.1,193.4 L120.2,194.9 L120.3,196.4 L120.4,197.9 L120.5,199.4 L120.7,200.9 L121.0,202.4 L121.3,203.8 L121.6,205.3 L122.0,206.8 L122.3,208.2 L122.6,209.7 L123.0,211.2 L123.4,212.6 L123.7,214.1 L124.1,215.5 L124.5,217.0 L124.9,218.4 L125.4,219.9 L125.8,221.3 L126.3,222.8 L126.7,224.2 L127.2,225.6 L127.7,227.0 L128.2,228.5 L128.7,229.9 L129.3,231.3 L129.9,232.6 L130.5,234.0 L131.1,235.3 L131.9,236.7 L132.6,238.0 L133.4,239.2 L134.3,240.5 L135.1,241.7 L135.9,243.0 L136.8,244.2 L137.6,245.5 L138.4,246.8 L139.1,248.0 L139.9,249.4 L140.6,250.7 L141.2,252.0 L141.9,253.4 L142.6,254.7 L143.3,256.1 L143.9,257.4 L144.6,258.8 L145.3,260.1 L145.9,261.5 L146.6,262.8 L147.3,264.1 L148.0,265.5 L148.7,266.8 L149.4,268.2 L150.1,269.5 L150.8,270.8 L151.6,272.0 L152.5,273.3 L153.4,274.5 L154.3,275.6 L155.3,276.8 L156.3,277.9 L157.2,279.1 L158.2,280.2 L159.2,281.4 L160.2,282.5 L161.1,283.7 L162.1,284.8 L163.1,286.0 L164.1,287.1 L165.1,288.2 L166.0,289.4 L167.0,290.5 L168.0,291.6 L169.1,292.7 L170.1,293.8 L171.2,294.9 L172.2,295.9 L173.3,297.0 L174.4,298.0 L175.5,299.1 L176.6,300.1 L177.7,301.0 L178.9,302.0 L180.1,303.0 L181.2,303.9 L182.4,304.9 L183.5,305.8 L184.7,306.8 L185.8,307.8 L186.9,308.9 L188.0,309.9 L189.1,310.9 L190.2,312.0 L191.2,313.0 L192.3,314.1 L192.7,314.4" fill="none" stroke="#ff00ff" stroke-width="2.9" stroke-linecap="round" stroke-linejoin="round"/>
<path d="M116.8,52.0 L116.8,53.5 L116.9,55.0 L116.9,56.5 L116.9,58.0 L116.9,59.5 L117.0,61.0 L117.0,62.5 L117.0,64.0 L117.0,65.5 L117.1,67.0 L117.1,68.5 L117.1,70.0 L117.1,71.5 L117.2,73.0 L117.2,74.5 L117.2,76.0 L117.2,77.5 L117.3,79.1 L117.3,80.6 L117.3,82.1 L117.3,83.6 L117.4,85.1 L117.4,86.6 L117.4,88.1 L117.4,89.6 L117.5,91.1 L117.5,92.6 L117.5,94.1 L117.5,95.6 L117.6,97.1 L117.6,98.6 L117.6,100.1 L117.6,101.6 L117.7,103.1 L117.7,104.6 L117.7,106.1 L117.8,107.6 L117.8,109.1 L117.8,110.6 L117.9,112.1 L117.9,113.6 L117.9,115.1 L118.0,116.6 L118.0,118.1 L118.0,119.6 L118.1,121.1 L118.1,122.6 L118.1,124.1 L118.2,125.6 L118.2,127.1 L118.2,128.6 L118.3,130.1 L118.3,131.6 L118.3,133.1 L118.4,134.7 L118.4,136.2 L118.4,137.7 L118.5,139.2 L118.5,140.7 L118.5,142.2 L118.6,143.7 L118.6,145.2 L118.6,146.7 L118.7,148.2 L118.7,149.7 L118.8,151.2 L118.8,152.7 L118.9,154.2 L119.0,155.7 L119.1,157.2 L119.1,158.7 L119.2,160.2 L119.3,161.7 L119.4,163.2 L119.4,164.7 L119.5,166.2 L119.6,167.7 L119.7,169.2 L119.7,170.7 L119.8,172.2 L119.9,173.7 L120.0,175.2 L120.0,176.7 L120.1,178.2 L120.2,179.7 L120.3,181.2 L120.4,182.7 L120.5,184.2 L120.7,185.7 L120.8,187.2 L120.9,188.7 L121.0,190.2 L121.1,191.7 L121.3,193.2 L121.4,194.7 L121.5,196.2 L121.7,197.7 L121.9,199.2 L122.1,200.6 L122.4,202.1 L122.7,203.6 L123.1,205.0 L123.5,206.5 L123.9,207.9 L124.2,209.4 L124.6,210.8 L125.0,212.3 L125.4,213.7 L125.8,215.2 L126.3,216.6 L126.8,218.0 L127.2,219.5 L127.7,220.9 L128.2,222.3 L128.7,223.7 L129.2,225.1 L129.8,226.5 L130.3,227.9 L130.9,229.3 L131.5,230.7 L132.2,232.0 L132.8,233.4 L133.5,234.7 L134.2,236.0 L135.0,237.3 L135.7,238.6 L136.5,239.9 L137.3,241.2 L138.2,242.4 L139.0,243.7 L139.8,245.0 L140.6,246.2 L141.3,247.5 L142.1,248.8 L142.8,250.1 L143.6,251.5 L144.3,252.8 L145.0,254.1 L145.7,255.4 L146.5,256.7 L147.2,258.0 L148.0,259.3 L148.8,260.6 L149.6,261.8 L150.4,263.1 L151.3,264.3 L152.1,265.6 L153.0,266.8 L153.8,268.1 L154.6,269.3 L155.4,270.6 L156.2,271.9 L157.0,273.2 L157.8,274.4 L158.7,275.6 L159.6,276.8 L160.6,277.9 L161.7,279.0 L162.7,280.0 L163.8,281.1 L164.8,282.2 L165.9,283.2 L166.9,284.3 L168.0,285.4 L169.1,286.4 L170.1,287.5 L171.2,288.6 L172.3,289.6 L173.3,290.7 L174.4,291.7 L175.5,292.7 L176.7,293.7 L177.8,294.7 L179.0,295.6 L180.1,296.6 L181.3,297.5 L182.5,298.4 L183.7,299.4 L184.9,300.3 L186.1,301.1 L187.3,302.0 L188.5,302.9 L189.8,303.7 L191.0,304.6 L192.3,305.4 L193.6,306.2 L194.8,307.0 L196.1,307.8 L197.4,308.6 L198.7,309.3 L200.0,310.1 L201.3,310.8 L202.6,311.5 L203.9,312.3 L205.3,313.0 L206.6,313.7 L207.9,314.4" fill="none" stroke="#0000ff" stroke-width="2.9" stroke-linecap="round" stroke-linejoin="round"/>
<path d="M116.8,52.0 L116.8,53.5 L116.9,55.0 L116.9,56.5 L116.9,58.0 L117.0,59.5 L117.0,61.0 L117.0,62.5 L117.1,64.0 L117.1,65.5 L117.1,67.0 L117.1,68.5 L117.2,70.0 L117.2,71.6 L117.2,73.1 L117.3,74.6 L117.3,76.1 L117.3,77.6 L117.4,79.1 L117.4,80.6 L117.4,82.1 L117.5,83.6 L117.5,85.1 L117.5,86.6 L117.6,88.1 L117.6,89.6 L117.6,91.1 L117.6,92.6 L117.7,94.1 L117.7,95.6 L117.7,97.1 L117.8,98.6 L117.8,100.1 L117.8,101.6 L117.9,103.1 L117.9,104.6 L117.9,106.1 L118.0,107.6 L118.0,109.2 L118.1,110.7 L118.1,112.2 L118.1,113.7 L118.2,115.2 L118.2,116.7 L118.2,118.2 L118.3,119.7 L118.3,121.2 L118.3,122.7 L118.4,124.2 L118.4,125.7 L118.5,127.2 L118.5,128.7 L118.5,130.2 L118.6,131.7 L118.6,133.2 L118.6,134.7 L118.7,136.2 L118.7,137.7 L118.7,139.2 L118.8,140.7 L118.8,142.2 L118.9,143.7 L118.9,145.2 L118.9,146.7 L119.0,148.3 L119.0,149.8 L119.1,151.3 L119.2,152.8 L119.3,154.3 L119.3,155.8 L119.4,157.3 L119.5,158.8 L119.6,160.3 L119.7,161.8 L119.8,163.3 L119.9,164.8 L120.0,166.3 L120.1,167.8 L120.2,169.3 L120.2,170.8 L120.3,172.3 L120.4,173.8 L120.5,175.3 L120.6,176.8 L120.7,178.3 L120.9,179.8 L121.0,181.3 L121.2,182.8 L121.3,184.3 L121.5,185.8 L121.7,187.3 L121.9,188.7 L122.1,190.2 L122.3,191.7 L122.5,193.2 L122.6,194.7 L122.8,196.2 L123.1,197.7 L123.3,199.2 L123.6,200.6 L124.0,202.1 L124.4,203.5 L124.8,205.0 L125.2,206.4 L125.7,207.9 L126.1,209.3 L126.5,210.8 L127.0,212.2 L127.4,213.6 L127.9,215.0 L128.4,216.5 L128.9,217.9 L129.5,219.3 L130.0,220.7 L130.5,222.1 L131.1,223.5 L131.6,224.9 L132.2,226.3 L132.9,227.6 L133.6,229.0 L134.3,230.3 L135.0,231.6 L135.8,232.9 L136.5,234.2 L137.2,235.5 L138.0,236.8 L138.7,238.1 L139.5,239.4 L140.2,240.8 L140.9,242.1 L141.6,243.4 L142.4,244.7 L143.1,246.0 L143.9,247.3 L144.6,248.6 L145.4,249.9 L146.2,251.2 L146.9,252.5 L147.7,253.8 L148.5,255.1 L149.3,256.4 L150.0,257.6 L150.9,258.9 L151.7,260.2 L152.5,261.4 L153.4,262.7 L154.2,263.9 L155.1,265.1 L155.9,266.4 L156.8,267.6 L157.7,268.8 L158.6,270.0 L159.5,271.2 L160.4,272.4 L161.3,273.6 L162.3,274.7 L163.3,275.9 L164.2,277.1 L165.2,278.2 L166.2,279.3 L167.2,280.4 L168.3,281.5 L169.4,282.5 L170.5,283.5 L171.6,284.5 L172.7,285.5 L173.8,286.5 L175.0,287.5 L176.1,288.6 L177.2,289.6 L178.3,290.6 L179.4,291.6 L180.5,292.6 L181.7,293.6 L182.8,294.6 L183.9,295.6 L185.1,296.5 L186.2,297.5 L187.4,298.4 L188.6,299.4 L189.8,300.3 L191.0,301.2 L192.2,302.1 L193.4,303.0 L194.6,303.9 L195.8,304.8 L197.0,305.6 L198.3,306.5 L199.6,307.3 L200.8,308.0 L202.2,308.8 L203.5,309.5 L204.8,310.1 L206.2,310.8 L207.6,311.4 L209.0,311.9 L210.4,312.5 L211.8,313.0 L213.2,313.5 L214.6,313.9 L215.1,314.1" fill="none" stroke="#00ff00" stroke-width="2.9" stroke-linecap="round" stroke-linejoin="round"/>
<path d="M116.8,52.0 L116.8,53.5 L116.9,55.0 L116.9,56.5 L117.0,58.0 L117.0,59.5 L117.0,61.0 L117.1,62.5 L117.1,64.0 L117.1,65.5 L117.2,67.0 L117.2,68.5 L117.3,70.0 L117.3,71.5 L117.3,73.0 L117.4,74.5 L117.4,76.0 L117.4,77.5 L117.5,79.0 L117.5,80.5 L117.6,82.0 L117.6,83.5 L117.6,85.0 L117.7,86.5 L117.7,88.0 L117.7,89.5 L117.8,91.0 L117.8,92.6 L117.9,94.1 L117.9,95.6 L117.9,97.1 L118.0,98.6 L118.0,100.1 L118.0,101.6 L118.1,103.1 L118.1,104.6 L118.2,106.1 L118.2,107.6 L118.3,109.1 L118.3,110.6 L118.4,112.1 L118.4,113.6 L118.5,115.1 L118.5,116.6 L118.5,118.1 L118.6,119.6 L118.6,121.1 L118.7,122.6 L118.7,124.1 L118.8,125.6 L118.8,127.1 L118.9,128.6 L118.9,130.1 L118.9,131.6 L119.0,133.1 L119.0,134.6 L119.1,136.1 L119.1,137.6 L119.2,139.1 L119.2,140.6 L119.3,142.1 L119.3,143.6 L119.4,145.1 L119.4,146.6 L119.5,148.1 L119.5,149.6 L119.6,151.1 L119.7,152.6 L119.8,154.1 L119.9,155.6 L120.0,157.1 L120.1,158.6 L120.2,160.1 L120.3,161.6 L120.4,163.1 L120.5,164.6 L120.6,166.1 L120.8,167.6 L120.9,169.1 L121.0,170.6 L121.1,172.1 L121.2,173.6 L121.3,175.1 L121.4,176.6 L121.5,178.1 L121.6,179.6 L121.7,181.1 L121.9,182.6 L122.1,184.0 L122.4,185.5 L122.7,187.0 L123.1,188.4 L123.5,189.9 L123.9,191.3 L124.4,192.7 L124.8,194.2 L125.3,195.6 L125.7,197.0 L126.1,198.5 L126.6,199.9 L127.0,201.3 L127.5,202.8 L128.0,204.2 L128.4,205.6 L128.9,207.1 L129.3,208.5 L129.8,209.9 L130.2,211.4 L130.6,212.8 L131.1,214.3 L131.5,215.7 L132.0,217.1 L132.4,218.5 L132.9,220.0 L133.5,221.4 L134.1,222.7 L134.6,224.1 L135.3,225.5 L135.9,226.9 L136.5,228.2 L137.2,229.5 L137.9,230.9 L138.7,232.2 L139.4,233.5 L140.2,234.8 L141.0,236.1 L141.7,237.3 L142.5,238.6 L143.4,239.8 L144.3,241.1 L145.2,242.3 L146.1,243.4 L147.0,244.6 L148.0,245.8 L149.0,246.9 L150.0,248.0 L151.0,249.1 L152.0,250.3 L153.0,251.4 L154.0,252.5 L155.0,253.6 L156.1,254.7 L157.1,255.8 L158.1,256.9 L159.1,258.0 L160.0,259.2 L161.0,260.3 L162.0,261.4 L163.0,262.6 L163.9,263.7 L164.9,264.9 L165.9,266.0 L166.9,267.2 L167.9,268.3 L168.8,269.4 L169.8,270.5 L170.8,271.7 L171.9,272.8 L172.9,273.9 L173.9,275.0 L174.9,276.1 L176.0,277.1 L177.0,278.2 L178.1,279.2 L179.2,280.3 L180.3,281.3 L181.4,282.3 L182.5,283.3 L183.7,284.3 L184.8,285.2 L186.0,286.2 L187.2,287.1 L188.4,288.0 L189.6,288.9 L190.8,289.8 L192.0,290.7 L193.2,291.6 L194.5,292.4 L195.7,293.2 L197.0,294.0 L198.3,294.8 L199.5,295.6 L200.8,296.4 L202.1,297.1 L203.4,297.9 L204.8,298.6 L206.1,299.3 L207.4,300.0 L208.8,300.7 L210.1,301.3 L211.5,301.9 L212.9,302.5 L214.3,303.1 L215.6,303.7 L217.0,304.2 L218.4,304.8 L219.9,305.3 L221.3,305.8 L222.7,306.3 L224.1,306.8 L225.5,307.2 L227.0,307.7 L228.4,308.1 L229.8,308.5 L231.3,309.0 L232.7,309.4 L234.2,309.8 L235.6,310.1 L237.1,310.5 L238.5,310.9 L240.0,311.2 L241.5,311.6 L242.9,311.9 L244.4,312.2 L245.9,312.5 L247.3,312.9 L248.8,313.2 L250.3,313.5 L251.7,313.8 L253.2,314.1 L254.2,314.3" fill="none" stroke="#ff0000" stroke-width="2.9" stroke-linecap="round" stroke-linejoin="round"/>
<path d="M116.8,52.0 L116.8,53.5 L116.9,55.0 L116.9,56.5 L117.0,58.0 L117.0,59.5 L117.1,61.0 L117.1,62.5 L117.2,64.0 L117.2,65.5 L117.2,67.0 L117.3,68.5 L117.3,70.0 L117.4,71.5 L117.4,73.0 L117.5,74.5 L117.5,76.0 L117.5,77.6 L117.6,79.1 L117.6,80.6 L117.7,82.1 L117.7,83.6 L117.8,85.1 L117.8,86.6 L117.9,88.1 L117.9,89.6 L117.9,91.1 L118.0,92.6 L118.0,94.1 L118.1,95.6 L118.1,97.1 L118.2,98.6 L118.2,100.1 L118.2,101.6 L118.3,103.1 L118.3,104.6 L118.4,106.1 L118.4,107.6 L118.5,109.1 L118.5,110.6 L118.5,112.1 L118.6,113.6 L118.6,115.1 L118.7,116.6 L118.7,118.1 L118.7,119.6 L118.8,121.1 L118.8,122.6 L118.9,124.2 L118.9,125.7 L119.0,127.2 L119.0,128.7 L119.0,130.2 L119.1,131.7 L119.1,133.2 L119.2,134.7 L119.2,136.2 L119.3,137.7 L119.3,139.2 L119.3,140.7 L119.4,142.2 L119.4,143.7 L119.5,145.2 L119.5,146.7 L119.6,148.2 L119.6,149.7 L119.7,151.2 L119.8,152.7 L119.9,154.2 L120.0,155.7 L120.2,157.2 L120.3,158.7 L120.4,160.2 L120.5,161.7 L120.6,163.2 L120.7,164.7 L120.9,166.2 L121.0,167.7 L121.1,169.2 L121.2,170.7 L121.3,172.2 L121.4,173.7 L121.6,175.2 L121.7,176.7 L121.8,178.2 L121.9,179.7 L122.0,181.2 L122.2,182.7 L122.3,184.2 L122.5,185.7 L122.8,187.1 L123.2,188.6 L123.6,190.0 L124.1,191.4 L124.6,192.8 L125.2,194.2 L125.7,195.6 L126.3,197.0 L126.8,198.4 L127.4,199.8 L127.9,201.2 L128.4,202.6 L128.9,204.1 L129.3,205.5 L129.8,206.9 L130.3,208.3 L130.8,209.7 L131.3,211.2 L131.8,212.6 L132.4,214.0 L133.0,215.4 L133.5,216.7 L134.1,218.1 L134.8,219.5 L135.4,220.9 L136.0,222.2 L136.6,223.6 L137.3,224.9 L137.9,226.3 L138.6,227.6 L139.3,229.0 L140.0,230.3 L140.8,231.6 L141.5,232.9 L142.2,234.3 L142.9,235.6 L143.6,236.9 L144.3,238.2 L145.0,239.6 L145.8,240.9 L146.5,242.2 L147.3,243.4 L148.1,244.7 L148.9,246.0 L149.8,247.2 L150.8,248.3 L151.7,249.5 L152.7,250.6 L153.8,251.7 L154.8,252.8 L155.8,253.8 L156.9,254.9 L157.9,256.0 L158.9,257.1 L159.9,258.3 L160.9,259.4 L161.9,260.5 L162.9,261.7 L163.8,262.8 L164.8,264.0 L165.8,265.1 L166.7,266.3 L167.7,267.4 L168.7,268.6 L169.6,269.8 L170.6,270.9 L171.6,272.1 L172.5,273.2 L173.5,274.4 L174.5,275.5 L175.5,276.6 L176.5,277.7 L177.5,278.8 L178.5,279.9 L179.6,281.0 L180.7,282.0 L181.7,283.1 L182.8,284.1 L183.9,285.1 L185.1,286.1 L186.2,287.1 L187.4,288.0 L188.6,289.0 L189.7,289.9 L190.9,290.8 L192.2,291.7 L193.4,292.6 L194.6,293.4 L195.9,294.2 L197.1,295.1 L198.4,295.9 L199.7,296.7 L201.0,297.4 L202.3,298.2 L203.6,298.9 L204.9,299.6 L206.2,300.3 L207.6,301.0 L208.9,301.7 L210.3,302.3 L211.7,302.9 L213.0,303.5 L214.4,304.1 L215.8,304.7 L217.2,305.2 L218.6,305.8 L220.0,306.3 L221.4,306.8 L222.9,307.3 L224.3,307.8 L225.7,308.2 L227.2,308.7 L228.6,309.1 L230.0,309.5 L231.5,309.9 L232.9,310.3 L234.4,310.7 L235.8,311.1 L237.3,311.5 L238.7,311.9 L240.2,312.2 L241.7,312.6 L243.1,312.9 L244.6,313.2 L246.1,313.5 L247.5,313.9 L249.0,314.2 L249.5,314.3" fill="none" stroke="#000080" stroke-width="3.0" stroke-linecap="round" stroke-linejoin="round"/>
<path d="M116.8,94.5 L116.8,96.0 L116.9,97.5 L116.9,99.0 L117.0,100.5 L117.0,102.0 L117.1,103.5 L117.1,105.0 L117.2,106.5 L117.2,108.0 L117.3,109.5 L117.4,111.0 L117.4,112.5 L117.5,114.0 L117.6,115.5 L117.7,117.0 L117.7,118.5 L117.8,120.0 L117.9,121.5 L118.0,123.0 L118.0,124.5 L118.1,126.0 L118.2,127.5 L118.3,129.0 L118.3,130.5 L118.5,132.0 L118.6,133.5 L118.7,135.0 L118.8,136.5 L118.9,138.0 L119.0,139.5 L119.1,141.0 L119.2,142.5 L119.3,144.0 L119.5,145.5 L119.6,147.0 L119.7,148.5 L119.8,150.0 L120.0,151.5 L120.2,152.9 L120.4,154.4 L120.6,155.9 L120.8,157.4 L121.0,158.9 L121.2,160.4 L121.4,161.9 L121.7,163.4 L121.9,164.8 L122.1,166.3 L122.3,167.8 L122.6,169.3 L123.0,170.7 L123.4,172.2 L123.8,173.6 L124.2,175.1 L124.6,176.5 L125.0,178.0 L125.3,179.4 L125.7,180.9 L126.1,182.3 L126.5,183.8 L126.9,185.2 L127.3,186.7 L127.7,188.1 L128.0,189.6 L128.4,191.0 L128.8,192.5 L129.2,193.9 L129.9,195.3 L130.6,196.6 L131.3,197.9 L132.0,199.2 L132.7,200.6 L133.4,201.9 L134.1,203.2 L134.9,204.5 L135.9,205.6 L137.1,206.5 L138.3,207.4 L139.5,208.3 L140.7,209.2 L141.9,210.1 L143.1,211.0 L144.3,211.8 L145.6,212.7 L146.8,213.6 L148.0,214.4 L149.1,215.4 L150.2,216.5 L151.3,217.5 L152.4,218.6 L153.4,219.7 L154.3,220.8 L155.3,222.0 L156.3,223.1 L157.3,224.3 L158.2,225.4 L159.2,226.6 L160.1,227.7 L161.1,228.9 L162.1,230.0 L163.0,231.2 L164.0,232.3 L165.0,233.5 L166.0,234.5 L167.1,235.6 L168.2,236.7 L169.2,237.7 L170.2,238.8 L171.2,240.0 L172.2,241.1 L173.1,242.3 L174.1,243.4 L175.1,244.5 L176.3,245.4 L177.5,246.4 L178.7,247.3 L179.8,248.2 L181.0,249.1 L182.2,250.1 L183.4,251.0 L184.3,251.1 L184.6,249.8 L184.8,248.3 L185.5,247.0 L186.7,246.3 L188.1,246.2 L189.6,246.5 L191.0,247.0 L192.4,247.4 L193.9,247.9 L195.3,248.4 L196.7,249.0 L198.0,249.6 L199.4,250.1 L200.8,250.7 L202.2,251.2 L203.6,251.8 L205.0,252.3 L206.4,252.8 L207.9,253.3 L209.3,253.8 L210.7,254.4 L212.1,254.9 L213.5,255.4 L214.9,255.9 L216.4,256.3 L217.8,256.8 L219.2,257.2 L220.6,257.7 L222.1,258.2 L223.5,258.7 L224.9,259.2 L226.3,259.7 L227.7,260.2 L229.1,260.7 L230.5,261.2 L232.0,261.7 L233.4,262.2 L234.8,262.8 L236.2,263.4 L237.5,264.0 L238.9,264.6 L240.3,265.2 L241.6,265.8 L243.0,266.4 L244.4,267.0 L245.8,267.6 L247.1,268.2 L248.5,268.9 L249.9,269.5 L251.2,270.1 L252.6,270.7 L254.0,271.3 L255.3,272.0 L256.7,272.6 L258.1,273.2 L259.4,273.8 L260.8,274.5 L262.2,275.1 L263.5,275.7 L264.9,276.3 L266.3,276.8 L267.7,277.4 L269.1,278.0 L270.5,278.5 L271.9,279.1 L273.3,279.6 L274.7,280.2 L276.1,280.7 L277.5,281.3 L278.9,281.8 L280.3,282.3 L281.8,282.7 L283.2,283.0 L284.7,283.4 L286.1,283.8 L287.6,284.2 L289.0,284.6 L290.5,285.0 L291.9,285.4 L293.3,285.9 L294.8,286.4 L296.2,286.8 L297.6,287.3 L299.0,287.8 L300.4,288.3 L301.9,288.7 L303.3,289.1 L304.8,289.4 L306.3,289.8 L307.7,290.2 L309.2,290.5 L310.6,290.9 L312.1,291.3 L313.5,291.6 L315.0,292.0 L316.5,292.3 L317.9,292.6 L319.4,292.9 L320.9,293.2 L322.3,293.5 L323.8,293.8 L325.3,294.1 L326.8,294.3 L328.2,294.6 L329.7,294.9 L331.2,295.2 L332.7,295.6 L334.1,295.9 L335.6,296.2 L337.0,296.5 L338.5,296.9 L340.0,297.2 L341.4,297.6 L342.9,298.0 L344.3,298.3 L345.8,298.7 L347.2,299.1 L348.7,299.5 L350.1,299.9 L351.6,300.3 L353.1,300.6 L354.5,300.9 L356.0,301.2 L357.5,301.5 L358.9,301.8 L360.4,302.1 L361.9,302.4 L363.4,302.7 L364.8,302.9 L366.3,303.2 L367.8,303.4 L369.3,303.6 L370.8,303.9 L372.3,304.1 L373.7,304.4 L375.2,304.6 L376.7,304.8 L378.2,305.0 L379.7,305.2 L381.2,305.4 L382.7,305.6 L384.1,305.8 L385.6,306.0 L387.1,306.2 L388.6,306.4 L390.1,306.6 L391.6,306.8 L393.1,307.0 L394.6,307.2 L396.0,307.5 L397.5,307.7 L399.0,307.9 L400.5,308.0 L402.0,308.2 L403.5,308.4 L405.0,308.6 L406.5,308.8 L408.0,309.0 L409.5,309.2 L410.9,309.4 L412.4,309.6 L413.9,309.7 L415.4,309.9 L416.9,310.1 L418.4,310.3 L419.9,310.4 L421.4,310.6 L422.9,310.8 L424.4,311.0 L425.8,311.2 L427.3,311.4 L428.8,311.6 L430.3,311.8 L431.8,312.0 L433.3,312.2 L434.8,312.4 L436.3,312.5 L437.8,312.7 L439.3,312.8 L440.8,313.0 L442.3,313.1 L443.7,313.2 L445.2,313.4 L446.7,313.5 L448.2,313.7 L449.7,313.9 L451.2,314.0 L452.7,314.2 L453.7,314.3" fill="none" stroke="#000" stroke-width="3.0" stroke-linecap="round" stroke-linejoin="round"/>
<line x1="116.8" y1="53" x2="117.3" y2="95" stroke="#00ff00" stroke-width="2.6"/>
<line x1="116.8" y1="94" x2="117.3" y2="110" stroke="#000" stroke-width="3"/>
<circle cx="116.8" cy="52.3" r="1.4" fill="#000080"/>
<path d="M614.4,322.0 L614.4,321.0 L614.3,320.0 L614.4,319.0 L614.6,318.0 L614.5,317.0 L614.4,316.0 L614.5,315.0 L614.5,314.0 L614.7,313.0 L615.2,312.0 L615.5,311.0 L615.3,310.0 L614.9,309.0 L614.8,308.0 L614.7,307.0 L614.6,306.0 L614.7,305.0 L615.2,304.0 L615.7,303.0 L615.6,302.0 L615.5,301.0 L615.7,300.0 L616.0,299.0 L616.1,298.0 L615.7,297.0 L615.3,296.0 L615.6,295.0 L616.2,294.0 L616.3,293.0 L616.2,292.0 L616.2,291.0 L616.3,290.0 L616.6,289.0 L616.3,288.0 L615.6,287.0 L615.6,286.0 L615.7,285.0 L615.8,284.0 L616.1,283.0 L616.2,282.0 L616.2,281.0 L616.1,280.0 L616.2,279.0 L616.5,278.0 L616.6,277.0 L616.3,276.0 L616.1,275.0 L616.1,274.0 L616.2,273.0 L616.5,272.0 L616.6,271.0 L616.3,270.0 L616.1,268.9 L616.0,267.9 L616.0,266.9 L616.1,265.9 L616.0,264.9 L615.9,263.9 L616.3,262.9 L616.7,261.9 L617.0,261.0 L617.1,260.0 L617.1,259.0 L616.7,257.9 L616.4,256.9 L616.3,255.9 L616.6,254.9 L616.6,253.9 L616.7,252.9 L616.9,251.9 L617.2,250.9 L617.3,249.9 L617.2,248.9 L617.1,247.9 L616.9,246.9 L617.2,245.9 L617.4,244.9 L617.1,243.9 L616.6,242.9 L616.5,241.9 L616.8,240.9 L617.3,239.9 L617.7,238.9 L617.6,237.9 L617.7,236.9 L618.0,236.0 L617.9,234.9 L617.8,233.9 L617.6,232.9 L617.6,231.9 L617.9,230.9 L618.0,229.9 L618.0,228.9 L618.3,227.9 L618.7,227.0 L618.9,226.0 L618.6,225.0 L618.4,223.9 L618.7,223.0 L618.7,222.0 L618.4,220.9 L617.7,219.9 L617.3,218.9 L617.9,217.9 L618.4,216.9 L618.4,215.9 L618.6,214.9 L619.0,213.9 L619.5,213.0 L619.8,212.0 L619.7,211.0 L619.4,210.0 L619.2,208.9 L619.0,207.9 L619.3,206.9 L619.7,206.0 L619.2,204.9 L618.6,203.9 L618.6,202.9 L619.0,201.9 L619.0,200.9 L619.3,199.9 L619.8,198.9 L619.8,197.9 L619.4,196.9 L619.5,195.9 L620.1,194.9 L620.6,194.0 L620.4,193.0 L620.0,191.9 L620.1,190.9 L620.6,190.0 L620.8,189.0 L620.8,188.0 L621.1,187.0 L621.2,186.0 L620.6,184.9 L620.5,183.9 L620.9,182.9 L621.0,182.0 L621.1,181.0 L621.2,180.0 L621.1,178.9 L620.9,177.9 L621.1,176.9 L621.2,175.9 L621.3,174.9 L621.6,174.0 L621.8,173.0 L621.7,172.0 L621.4,170.9 L621.7,170.0 L622.0,169.0 L622.2,168.0 L622.6,167.0 L623.1,166.0 L623.3,165.1 L622.9,164.0 L622.2,163.0 L622.0,161.9 L622.3,161.0 L622.8,160.0 L623.1,159.0 L623.4,158.0 L623.4,157.0 L623.2,156.0 L622.7,155.0 L621.8,153.9 L621.5,152.8 L622.5,151.9 L623.4,151.0 L623.6,150.0 L623.6,149.0 L623.8,148.0 L624.2,147.0 L624.3,146.1 L624.0,145.0 L623.9,144.0 L623.9,143.0 L624.0,142.0 L624.2,141.0 L624.4,140.0 L624.5,139.0 L624.6,138.0 L625.0,137.1 L625.6,136.1 L626.1,135.2 L626.0,134.2 L625.6,133.1 L625.6,132.1 L625.5,131.1 L625.7,130.1 L625.8,129.1 L625.7,128.1 L626.1,127.1 L626.5,126.1 L626.5,125.1 L626.7,124.2 L627.2,123.2 L627.4,122.2 L627.4,121.2 L627.2,120.2 L627.0,119.1 L627.7,118.2 L628.6,117.4 L628.5,116.4 L627.7,115.2 L627.8,114.2 L628.4,113.3 L628.8,112.3 L629.4,111.4 L629.7,110.5 L629.9,109.5 L630.1,108.5 L630.7,107.6 L631.0,106.7 L631.2,105.7 L631.5,104.7 L631.7,103.7 L631.4,102.7 L631.3,101.6 L631.7,100.7 L632.3,99.9 L632.9,99.1 L633.5,98.2 L633.8,97.3 L634.0,96.2 L634.2,95.2 L634.5,94.2 L635.0,93.4 L635.8,92.7 L636.5,91.9 L637.2,91.1 L637.7,90.3 L638.0,89.4 L638.5,88.5 L638.8,87.5 L639.0,86.3 L639.8,85.6 L640.7,85.1 L641.7,84.7 L642.9,84.4 L643.8,83.9 L644.2,82.9 L644.4,81.8 L644.9,80.8 L645.5,79.9 L646.4,79.1 L647.3,78.6 L648.3,78.4 L649.3,78.4 L650.3,78.2 L651.4,78.1 L652.4,78.1 L653.4,78.1 L654.3,77.8 L655.3,77.4 L656.3,77.6 L657.3,78.1 L658.3,78.4 L659.3,78.6 L660.3,78.7 L661.3,78.7 L662.3,78.6 L663.3,78.5 L664.3,78.0 L665.3,77.8 L666.3,77.7 L667.3,77.4 L668.3,77.3 L669.4,77.2 L670.4,77.2 L671.3,77.8 L672.3,78.2 L673.3,78.0 L674.3,78.0 L675.3,78.4 L676.3,78.8 L677.3,78.9 L678.3,79.1 L679.3,79.3 L680.3,79.6 L681.3,79.4 L682.3,78.9 L683.3,78.9 L684.3,79.4 L685.3,79.6 L686.3,79.3 L687.3,79.2 L688.3,79.1 L689.3,79.0 L690.3,79.4 L691.3,79.4 L692.4,78.9 L693.4,79.0 L694.2,80.0 L695.2,80.7 L696.3,80.7 L697.3,80.3 L698.3,79.7 L699.2,79.1 L700.3,78.9 L701.3,79.3 L702.3,79.8 L703.2,80.2 L704.3,79.9 L705.3,79.4 L706.3,79.5 L707.3,79.8 L708.3,79.8 L709.3,80.1 L710.3,80.5 L711.3,80.4 L712.3,79.9 L713.2,79.6 L714.2,79.7 L715.3,79.7 L716.2,79.6 L717.2,79.5 L718.3,79.6 L719.3,79.4 L720.2,78.9 L721.2,78.4 L722.2,78.7 L723.3,79.6 L724.3,79.9 L725.3,79.5 L726.2,79.0 L727.2,78.4 L728.1,77.7 L729.1,77.6 L730.2,78.1 L731.2,78.3 L732.2,78.1 L733.2,77.9 L734.2,78.2 L735.2,78.4 L736.2,78.5 L737.2,78.6 L738.2,78.5 L739.2,78.5 L740.3,78.6 L741.2,78.1 L742.1,77.6 L743.0,77.0 L743.9,76.6 L745.0,76.7 L746.0,76.7 L746.9,76.2 L747.9,76.1 L748.9,76.3 L749.9,76.1 L750.9,76.0 L752.0,75.8 L753.0,75.6 L753.9,76.2 L754.8,77.1 L755.8,77.3 L756.8,76.9 L757.8,76.6 L758.8,76.5 L759.8,76.6 L760.8,76.9 L761.8,77.3 L762.8,77.8 L763.8,77.7 L764.8,76.8 L765.8,76.0 L766.9,75.7 L767.9,76.1 L768.8,76.4 L769.8,76.6 L770.8,76.9 L771.8,77.0 L772.8,77.0 L773.8,76.7 L774.7,76.1 L775.7,75.7 L776.7,75.9 L777.6,76.3 L778.6,76.5 L779.6,76.7 L780.7,76.8 L781.6,77.1 L782.3,78.0 L782.9,79.0 L783.8,79.4 L784.9,79.3 L785.9,79.3 L786.9,79.6 L787.8,80.1 L788.8,80.3 L789.8,80.4 L790.7,80.8 L791.6,81.3 L792.4,82.0 L793.3,82.5 L794.3,82.8 L795.2,83.2 L796.2,83.5 L797.2,83.6 L798.2,83.9 L799.0,84.6 L799.8,85.2 L800.8,85.3 L801.7,85.7 L802.4,86.6 L803.3,87.0 L804.4,87.1 L805.3,87.5 L806.3,87.7 L807.3,88.0 L808.1,88.7 L808.9,89.2 L809.9,89.5 L810.8,89.9 L811.8,90.2 L812.7,90.6 L813.6,91.1 L814.5,91.5 L815.6,91.5 L816.6,91.6 L817.6,91.7 L818.6,91.9 L819.5,92.3 L820.5,92.7 L821.4,93.4 L822.4,93.5 L823.5,92.9 L824.6,92.5 L825.6,92.3 L826.6,92.4 L827.6,92.8 L828.5,93.2 L829.5,93.5 L830.4,93.9 L831.4,94.1 L832.5,93.9 L833.5,94.0 L834.4,94.2 L835.5,94.1 L836.5,93.9 L837.5,94.2 L838.5,94.3 L839.5,93.8 L840.5,93.4 L841.5,93.5 L842.5,93.7 L843.5,93.8 L844.5,94.3 L845.5,94.8 L846.5,95.0 L847.4,95.3 L848.4,95.5 L849.4,95.4 L850.5,95.3 L851.5,95.3 L852.5,95.2 L853.5,95.0 L854.5,95.1 L855.5,95.4 L856.5,95.1 L857.5,95.0 L858.5,95.3 L859.5,95.6 L860.5,95.4 L861.5,95.2 L862.5,95.6 L863.5,96.0 L864.5,96.1 L865.5,96.2 L866.5,95.9 L867.5,95.6 L868.5,95.7 L869.5,95.7 L870.5,95.8 L871.5,95.8 L872.5,96.1 L873.5,96.3 L874.5,96.1 L875.5,95.5 L876.5,95.2 L877.5,95.4 L878.5,95.5 L879.5,95.4 L880.5,95.3 L881.5,95.3 L882.5,95.3 L883.5,95.5 L884.5,95.7 L885.5,95.8 L886.5,95.8 L887.5,96.0 L888.5,95.9 L889.5,96.0 L890.5,96.2 L891.5,96.1 L892.5,95.6 L893.5,95.4 L894.5,95.2 L895.5,95.1 L896.5,95.1 L897.5,95.6 L898.5,96.2 L899.5,96.1 L900.5,95.9 L901.5,96.1 L902.5,95.5 L903.5,94.8 L904.5,94.9 L905.5,95.5 L906.6,96.2 L907.6,96.5 L908.6,96.1 L909.6,95.9 L910.6,96.1 L911.6,96.4 L912.6,96.4 L913.6,95.7 L914.6,95.3 L915.6,95.3 L916.6,95.2 L917.6,95.6 L918.6,95.7 L919.6,95.1 L920.6,95.0 L921.6,95.8 L922.6,96.4 L923.6,96.2 L924.6,95.7 L925.6,95.3 L926.6,95.1 L927.6,94.9 L928.6,94.6 L929.6,95.1 L930.6,96.2 L931.6,96.5 L932.6,96.0 L933.6,95.7 L934.6,95.7 L935.6,95.8 L936.6,95.8 L937.6,95.5 L938.6,95.3 L939.6,95.5 L940.6,95.7 L941.6,95.5 L942.6,95.6 L943.6,95.9 L944.6,95.8 L945.6,95.2 L946.6,94.8 L947.6,94.7 L948.6,95.1 L949.6,95.6 L950.6,95.6 L951.6,95.3 L952.6,95.1 L953.6,95.4 L954.6,95.5 L955.6,95.2 L956.6,95.3 L957.6,95.3 L958.6,95.2 L959.6,95.2 L960.6,95.6 L961.6,95.6 L962.6,95.3 L963.6,95.2 L964.6,95.0 L965.6,94.8 L966.6,94.6 L967.6,94.4 L968.6,94.4 L969.6,94.7 L970.6,95.1 L971.7,95.2 L972.6,95.0 L973.6,94.8 L974.6,94.3 L975.6,94.1 L976.6,94.0 L977.6,93.6 L978.6,93.9 L979.6,94.5 L980.6,94.5 L981.6,93.9 L982.6,93.4 L983.6,93.2 L984.6,93.5 L985.6,94.0 L986.7,94.2 L987.7,94.2 L988.6,93.8 L989.6,93.7 L990.6,93.7 L991.6,93.4 L992.5,92.8 L993.5,92.5 L994.5,92.6 L995.5,92.6 L996.5,92.4 L997.0,92.3" fill="none" stroke="#000" stroke-width="3.0" stroke-linecap="round" stroke-linejoin="round"/>
<path d="M997.0,91.2 L997.0,92.2 L997.0,93.2 L997.0,94.2 L996.3,95.2 L995.2,95.4 L994.3,95.9 L993.6,96.6 L992.7,97.1 L991.9,97.7 L991.1,98.3 L990.3,98.9 L989.4,99.5 L988.6,100.1 L987.7,100.5 L986.7,100.7 L985.7,101.0 L984.8,101.3 L983.8,101.5 L982.8,101.8 L981.9,102.0 L980.9,102.1 L979.8,102.1 L978.9,102.5 L977.9,102.8 L977.0,103.0 L976.0,103.2 L975.0,103.3 L974.0,103.6 L973.1,104.1 L972.1,104.4 L971.1,104.6 L970.2,104.8 L969.2,105.0 L968.1,104.9 L967.1,104.8 L966.1,105.0 L965.2,105.4 L964.2,105.7 L963.2,105.9 L962.2,105.8 L961.2,105.7 L960.2,105.7 L959.2,105.8 L958.2,105.8 L957.2,105.9 L956.2,106.0 L955.2,106.1 L954.2,106.2 L953.2,106.4 L952.2,106.5 L951.2,106.4 L950.2,106.0 L949.2,106.0 L948.2,106.6 L947.2,107.1 L946.2,107.2 L945.2,107.2 L944.2,107.1 L943.2,107.0 L942.2,107.1 L941.2,106.9 L940.2,106.7 L939.2,106.8 L938.2,107.3 L937.2,107.6 L936.2,107.5 L935.2,107.3 L934.2,107.3 L933.2,107.5 L932.2,107.8 L931.2,107.8 L930.2,107.2 L929.1,106.9 L928.2,107.2 L927.2,107.5 L926.2,107.9 L925.2,107.9 L924.2,107.6 L923.2,107.7 L922.2,108.1 L921.2,108.2 L920.2,108.1 L919.1,107.5 L918.1,107.2 L917.2,107.7 L916.2,108.3 L915.2,108.5 L914.2,108.6 L913.2,108.4 L912.2,108.2 L911.2,108.3 L910.2,108.5 L909.2,108.8 L908.2,108.7 L907.2,108.7 L906.2,109.0 L905.2,109.0 L904.2,108.8 L903.2,109.0 L902.2,109.2 L901.2,109.2 L900.2,109.1 L899.2,109.2 L898.2,109.6 L897.2,109.8 L896.2,109.9 L895.2,109.8 L894.2,109.6 L893.2,109.4 L892.2,109.3 L891.2,109.4 L890.2,109.5 L889.2,109.3 L888.2,109.0 L887.2,109.1 L886.2,109.5 L885.2,110.0 L884.2,110.2 L883.2,110.2 L882.2,110.3 L881.2,110.2 L880.2,109.9 L879.2,109.7 L878.1,109.7 L877.1,109.7 L876.1,109.9 L875.2,110.1 L874.1,109.8 L873.1,109.5 L872.1,109.6 L871.1,110.0 L870.1,110.3 L869.1,110.4 L868.2,110.6 L867.2,110.8 L866.2,110.7 L865.1,110.3 L864.1,109.8 L863.1,109.7 L862.1,110.2 L861.1,110.6 L860.1,110.5 L859.1,110.6 L858.1,110.4 L857.1,110.1 L856.1,110.2 L855.1,110.6 L854.1,110.7 L853.1,110.6 L852.1,110.5 L851.1,110.7 L850.1,110.7 L849.1,110.7 L848.1,110.7 L847.1,111.0 L846.2,111.3 L845.2,111.4 L844.2,111.4 L843.1,111.3 L842.1,111.1 L841.1,111.0 L840.1,111.1 L839.1,111.1 L838.1,111.2 L837.1,111.4 L836.1,111.6 L835.1,111.5 L834.1,111.5 L833.1,111.7 L832.1,111.8 L831.1,111.7 L830.1,111.5 L829.1,111.5 L828.1,111.8 L827.1,112.2 L826.1,112.3 L825.2,112.7 L824.2,113.1 L823.2,113.0 L822.2,113.0 L821.2,113.4 L820.2,113.5 L819.2,113.4 L818.2,113.7 L817.2,113.9 L816.2,113.9 L815.2,114.1 L814.2,114.2 L813.2,114.1 L812.2,114.2 L811.3,114.7 L810.3,115.0 L809.3,115.1 L808.3,115.3 L807.2,115.2 L806.2,115.1 L805.2,115.5 L804.4,116.3 L803.5,116.8 L802.6,117.1 L801.6,117.5 L800.8,118.1 L799.9,118.5 L798.9,118.6 L797.9,118.9 L797.0,119.3 L796.1,119.8 L795.3,120.4 L794.4,121.0 L793.6,121.5 L792.7,122.0 L791.8,122.4 L790.8,122.7 L789.8,123.0 L788.9,123.4 L788.2,124.1 L787.5,124.9 L786.6,125.4 L785.6,125.2 L784.6,125.3 L783.6,125.8 L782.9,126.5 L782.0,126.9 L780.9,127.0 L779.8,127.1 L779.0,127.8 L778.4,128.6 L777.9,129.5 L777.2,130.2 L776.2,130.7 L775.1,130.8 L774.1,131.1 L773.3,131.5 L772.6,132.2 L771.9,132.9 L771.3,133.7 L770.8,134.5 L770.3,135.5 L769.5,136.2 L768.6,136.7 L767.7,137.2 L766.9,137.7 L766.4,138.5 L766.0,139.4 L765.5,140.3 L764.7,141.0 L763.8,141.6 L763.1,142.3 L762.5,143.0 L761.8,143.8 L761.2,144.6 L760.6,145.4 L760.0,146.1 L759.6,147.0 L759.2,147.9 L758.8,148.8 L758.6,149.8 L758.3,150.8 L757.9,151.8 L756.8,152.5 L755.7,152.5 L754.6,152.6 L753.9,153.3 L753.6,154.4 L753.2,155.3 L752.7,156.1 L751.9,156.9 L751.3,157.7 L751.1,158.8 L750.8,159.7 L750.0,160.4 L749.1,160.8 L748.7,160.2 L747.9,159.6 L747.1,158.9 L746.5,158.3 L745.7,157.7 L744.8,157.4 L743.8,157.2 L742.9,156.7 L742.0,156.2 L741.4,155.4 L740.9,154.5 L740.2,153.7 L739.9,152.8 L739.6,151.8 L738.9,151.1 L738.0,150.7 L737.0,150.5 L736.1,150.4 L735.1,150.7 L734.1,150.9 L733.4,151.1 L732.4,150.9 L731.6,150.5 L730.7,150.8 L730.1,151.6 L729.7,152.6 L729.3,153.5 L728.5,154.2 L727.7,155.1 L726.7,155.6 L725.7,155.5 L724.7,155.5 L724.1,156.2 L723.4,156.9 L722.7,157.6 L722.1,158.5 L721.7,159.4 L721.2,160.4 L720.2,160.6 L719.1,160.6 L718.1,160.9 L717.3,161.6 L716.7,162.5 L716.6,163.6 L716.6,164.7 L716.3,165.6 L715.8,166.6 L715.2,167.5 L714.2,168.0 L713.1,168.1 L712.1,168.3 L711.6,169.2 L711.3,170.2 L711.0,171.1 L710.5,172.0 L710.2,173.0 L709.8,173.9 L709.2,174.7 L708.8,175.6 L708.4,176.5 L707.9,177.4 L707.0,177.9 L706.0,177.7 L704.9,177.9 L704.3,178.9 L704.1,179.9 L703.7,180.8 L703.3,181.8 L703.1,182.8 L702.7,183.7 L702.2,184.6 L701.1,184.7 L700.2,184.2 L699.3,183.8 L698.5,184.1 L697.9,184.9 L697.4,185.7 L697.1,186.7 L697.0,187.8 L696.6,188.7 L695.9,189.5 L695.3,190.3 L694.8,191.4 L693.5,191.5 L692.8,190.7 L691.9,190.4 L691.3,191.2 L691.1,192.3 L690.9,193.3 L690.2,194.1 L689.6,194.9 L688.7,195.6 L687.9,195.1 L687.0,194.6 L686.2,194.1 L685.7,194.2 L685.1,194.9 L684.4,195.6 L683.8,196.3 L683.1,197.1 L682.6,197.9 L681.9,198.4 L681.1,197.8 L680.3,197.3 L679.6,196.6 L679.1,195.7 L678.2,196.1 L677.7,197.0 L677.0,197.8 L676.2,198.4 L675.4,199.0 L674.5,198.5 L673.9,197.7 L673.5,196.8 L672.3,196.5 L671.5,197.2 L671.2,198.2 L670.9,199.3 L670.3,200.2 L669.3,200.7 L668.3,200.1 L667.5,199.6 L666.8,198.9 L666.0,199.0 L665.2,199.7 L664.5,200.4 L664.1,201.4 L663.4,202.3 L662.3,201.9 L661.6,201.1 L660.8,200.5 L659.8,200.5 L658.7,200.6 L657.7,201.0 L657.0,201.7 L656.5,202.7 L655.9,203.5 L655.4,204.2 L654.8,205.0 L654.4,205.9 L653.6,206.7 L652.6,207.1 L651.8,207.7 L651.1,208.3 L650.4,208.9 L649.5,209.5 L648.6,209.9 L647.8,210.6 L647.5,211.6 L647.2,212.6 L646.7,213.4 L646.1,214.3 L645.6,215.2 L645.2,216.1 L645.1,217.1 L645.2,218.3 L644.3,219.0 L643.1,219.0 L642.3,219.4 L641.9,220.3 L641.6,221.3 L641.4,222.3 L641.0,223.2 L640.3,224.0 L639.7,224.9 L639.7,225.9 L639.7,227.0 L639.6,228.0 L639.3,229.0 L638.6,229.8 L637.9,230.5 L637.4,231.4 L637.0,232.3 L636.6,233.2 L636.3,234.2 L636.1,235.2 L635.9,236.1 L635.6,237.1 L635.3,238.1 L635.1,239.0 L634.8,240.0 L634.6,241.0 L634.5,242.0 L634.5,243.0 L634.3,244.1 L633.9,245.0 L633.2,245.8 L632.7,246.7 L632.3,247.6 L631.5,248.3 L630.9,249.1 L630.4,250.0 L629.9,250.9 L629.8,251.8 L629.7,252.9 L629.6,253.8 L629.2,254.8 L628.8,255.7 L628.5,256.7 L628.4,257.7 L628.5,258.7 L628.5,259.8 L628.5,260.8 L628.1,261.7 L627.7,262.7 L627.5,263.6 L627.2,264.6 L627.0,265.6 L626.9,266.6 L626.7,267.6 L626.5,268.6 L626.2,269.5 L626.0,270.5 L625.8,271.5 L625.2,272.4 L625.0,273.4 L625.1,274.4 L625.0,275.4 L624.6,276.3 L624.0,277.1 L623.3,277.8 L622.5,278.4 L622.1,279.3 L621.9,280.3 L621.6,281.3 L621.5,282.3 L621.4,283.3 L621.3,284.3 L621.2,285.3 L621.0,286.3 L620.8,287.2 L620.8,288.2 L620.6,289.2 L620.3,290.2 L620.1,291.2 L619.9,292.2 L619.5,293.1 L619.5,294.1 L619.6,295.2 L619.3,296.1 L619.1,297.1 L619.2,298.1 L619.1,299.1 L619.1,300.1 L619.1,301.2 L618.7,302.2 L617.8,302.9 L617.0,303.6 L616.8,304.6 L616.7,305.7 L616.4,306.6 L616.3,307.6 L616.4,308.7 L616.3,309.7 L616.0,310.6 L615.7,311.6 L615.3,312.5 L615.0,313.5 L614.8,314.5 L614.9,315.5 L615.0,316.5 L615.0,317.5 L615.0,318.5 L614.8,319.5 L614.5,320.5 L614.4,321.5 L614.4,322.0" fill="none" stroke="#000" stroke-width="3.0" stroke-linecap="round" stroke-linejoin="round"/>
<path d="M614.4,264.4 L614.5,263.4 L614.3,262.4 L614.2,261.4 L614.3,260.4 L614.8,259.4 L615.4,258.5 L615.2,257.4 L614.7,256.4 L614.6,255.4 L614.9,254.4 L615.2,253.4 L615.3,252.4 L615.3,251.4 L615.5,250.4 L615.8,249.4 L615.4,248.4 L614.7,247.4 L614.8,246.4 L615.3,245.4 L615.5,244.4 L615.3,243.4 L615.2,242.4 L615.3,241.4 L615.7,240.4 L616.6,239.5 L617.3,238.5 L617.0,237.5 L616.2,236.4 L616.0,235.4 L616.6,234.4 L617.2,233.5 L617.0,232.5 L616.9,231.4 L617.1,230.5 L617.4,229.5 L617.6,228.5 L617.7,227.5 L617.4,226.5 L617.1,225.4 L617.0,224.4 L617.1,223.4 L617.2,222.4 L616.7,221.4 L616.1,220.4 L616.2,219.4 L616.7,218.4 L617.1,217.4 L617.4,216.4 L617.8,215.5 L617.9,214.5 L617.8,213.4 L617.8,212.4 L617.7,211.4 L617.6,210.4 L617.6,209.4 L617.6,208.4 L617.9,207.4 L618.1,206.4 L618.0,205.4 L617.8,204.4 L617.4,203.4 L617.5,202.4 L617.8,201.4 L617.9,200.4 L618.3,199.4 L618.5,198.5 L618.3,197.4 L618.0,196.4 L617.7,195.4 L617.8,194.4 L618.3,193.4 L618.7,192.4 L618.8,191.4 L618.8,190.4 L618.6,189.4 L618.4,188.4 L618.5,187.4 L618.6,186.4 L618.7,185.4 L618.7,184.4 L618.8,183.4 L619.0,182.4 L619.0,181.4 L619.0,180.4 L618.9,179.4 L618.6,178.4 L618.3,177.4 L618.6,176.4 L619.5,175.4 L619.9,174.5 L619.2,173.4 L618.5,172.4 L618.7,171.4 L619.0,170.4 L619.0,169.4 L619.2,168.4 L619.8,167.4 L620.2,166.5 L620.0,165.4 L619.8,164.4 L620.1,163.4 L620.6,162.5 L620.6,161.5 L620.3,160.4 L620.4,159.4 L620.7,158.5 L620.7,157.5 L620.6,156.5 L620.3,155.4 L620.2,154.4 L620.5,153.4 L620.6,152.5 L620.4,151.4 L620.7,150.4 L621.2,149.5 L621.6,148.5 L621.8,147.5 L621.4,146.5 L621.1,145.5 L621.6,144.5 L622.4,143.6 L622.8,142.6 L622.9,141.6 L622.6,140.6 L621.8,139.5 L621.2,138.4 L621.3,137.4 L621.8,136.5 L622.6,135.6 L622.9,134.6 L622.9,133.6 L622.9,132.6 L622.8,131.6 L622.7,130.5 L623.0,129.6 L623.5,128.6 L623.6,127.6 L623.2,126.6 L623.1,125.5 L623.5,124.6 L624.1,123.6 L624.7,122.7 L624.8,121.7 L624.8,120.7 L624.6,119.7 L623.9,118.6 L623.6,117.5 L624.2,116.6 L624.9,115.7 L625.0,114.7 L625.1,113.7 L625.2,112.7 L625.6,111.7 L626.2,110.8 L626.5,109.9 L626.3,108.8 L626.0,107.7 L626.0,106.7 L626.6,105.8 L627.5,105.0 L627.8,104.0 L627.4,102.9 L627.6,101.9 L628.3,101.1 L628.7,100.1 L628.8,99.1 L628.7,98.0 L628.7,97.0 L629.1,96.1 L629.5,95.2 L630.3,94.3 L630.6,93.4 L630.3,92.2 L630.5,91.2 L631.2,90.4 L631.9,89.6 L632.0,88.6 L631.9,87.5 L632.4,86.6 L633.3,85.9 L633.8,85.1 L634.4,84.2 L635.1,83.5 L635.9,82.9 L636.6,82.1 L637.0,81.2 L637.5,80.3 L638.0,79.4 L638.2,78.3 L638.7,77.3 L639.6,76.6 L640.6,76.1 L641.7,76.0 L642.7,75.8 L643.6,75.3 L644.5,75.0 L645.7,75.4 L646.9,75.7 L647.7,75.2 L648.6,74.9 L649.5,75.0 L650.5,75.2 L651.5,75.2 L652.5,74.8 L653.6,74.6 L654.5,75.2 L655.5,75.5 L656.5,75.3 L657.5,75.1 L658.6,75.0 L659.6,74.6 L660.7,74.5 L661.6,75.2 L662.4,76.0 L663.4,76.3 L664.5,76.0 L665.5,75.8 L666.5,76.1 L667.4,76.9 L668.3,77.6 L669.3,77.5 L670.3,77.2 L671.3,77.3 L672.3,77.7 L673.3,78.0 L674.3,78.1 L675.3,78.2 L676.3,78.0 L677.4,77.8 L678.3,78.2 L679.3,78.5 L680.3,78.6 L681.2,79.0 L682.2,78.9 L683.3,78.5 L684.3,78.6 L685.2,79.1 L686.2,79.3 L687.2,79.2 L688.2,79.5 L689.2,79.9 L690.2,79.8 L691.2,79.9 L692.2,80.1 L693.2,80.3 L694.2,80.4 L695.2,80.5 L696.2,80.5 L697.2,80.5 L698.2,80.6 L699.2,80.8 L700.1,81.0 L701.2,81.0 L702.2,80.7 L703.2,80.5 L704.2,80.8 L705.2,81.2 L706.2,80.9 L707.2,80.5 L708.2,80.7 L709.2,80.9 L710.2,80.9 L711.2,81.4 L712.1,81.9 L713.1,81.9 L714.1,81.9 L715.1,81.9 L716.1,82.4 L717.1,82.5 L718.1,82.0 L719.1,81.9 L720.2,82.1 L721.1,81.9 L722.1,81.0 L723.2,80.6 L724.2,80.9 L725.2,81.2 L726.2,81.1 L727.2,81.2 L728.2,81.6 L729.2,81.9 L730.2,82.0 L731.2,82.0 L732.2,82.0 L733.2,82.0 L734.2,82.3 L735.2,82.1 L736.2,81.6 L737.1,81.5 L738.2,81.6 L739.2,81.6 L740.1,81.4 L741.2,81.6 L742.3,82.3 L743.3,82.3 L744.2,81.5 L745.2,81.1 L746.2,81.3 L747.2,81.3 L748.2,81.0 L749.1,80.6 L750.1,80.3 L751.1,80.3 L752.1,80.2 L753.1,80.0 L754.1,80.1 L755.1,80.4 L756.1,80.8 L757.1,80.9 L758.1,80.4 L759.1,80.0 L760.1,80.0 L761.1,79.9 L762.1,79.7 L763.1,79.7 L764.1,79.5 L765.1,79.7 L766.1,79.8 L767.1,79.8 L768.1,79.9 L769.1,79.8 L770.1,79.5 L771.1,79.6 L772.0,80.0 L773.0,80.5 L774.0,81.0 L775.0,81.1 L776.0,80.7 L777.0,80.4 L778.0,80.5 L779.0,80.9 L779.9,81.3 L780.9,81.3 L781.9,81.3 L782.7,82.1 L783.4,83.1 L784.3,83.5 L785.5,83.3 L786.6,83.0 L787.8,82.7 L788.8,82.8 L789.6,83.6 L790.5,84.1 L791.5,84.2 L792.5,84.4 L793.5,84.7 L794.4,85.0 L795.3,85.5 L796.2,85.9 L797.2,86.1 L798.1,86.5 L798.9,87.4 L799.7,88.0 L800.6,88.4 L801.6,88.7 L802.6,88.9 L803.6,89.1 L804.5,89.4 L805.5,89.6 L806.5,89.9 L807.4,90.4 L808.4,90.5 L809.4,90.4 L810.4,90.6 L811.4,90.7 L812.4,90.8 L813.3,91.4 L814.2,92.0 L815.2,92.3 L816.1,92.5 L817.2,92.5 L818.2,92.4 L819.2,92.7 L820.1,93.1 L821.0,93.6 L822.1,93.7 L823.1,93.4 L824.1,93.3 L825.1,93.4 L826.1,93.3 L827.1,93.6 L828.1,94.0 L829.1,94.0 L830.1,93.8 L831.1,94.1 L832.0,94.6 L833.0,94.8 L834.0,94.7 L835.0,94.6 L836.0,95.0 L837.0,95.3 L838.0,95.1 L839.0,95.1 L840.0,95.3 L841.0,95.3 L842.0,95.3 L843.0,95.1 L844.0,94.9 L845.0,94.8 L846.0,94.8 L847.0,95.0 L848.0,95.4 L849.0,95.4 L850.0,95.1 L851.0,95.3 L852.0,95.6 L853.0,95.6 L854.0,95.4 L855.0,95.4 L856.0,95.4 L857.1,95.0 L858.0,95.1 L859.0,95.7 L860.0,96.0 L861.0,96.3 L862.0,96.4 L863.0,96.2 L864.0,96.2 L865.0,96.5 L866.0,96.9 L867.0,96.6 L868.0,96.1 L869.0,96.0 L870.0,96.1 L871.0,95.9 L872.0,96.0 L873.0,96.0 L874.0,95.8 L875.0,96.1 L876.0,96.7 L877.0,96.8 L878.0,96.2 L879.0,96.0 L880.0,96.4 L881.0,96.5 L882.0,96.2 L883.0,96.1 L884.0,96.8 L885.0,97.2 L886.1,97.0 L887.1,96.4 L888.1,96.3 L889.1,96.6 L890.1,96.6 L891.1,96.4 L892.1,96.4 L893.1,96.4 L894.1,96.4 L895.1,96.5 L896.1,96.8 L897.1,97.1 L898.1,97.2 L899.1,96.9 L900.1,96.5 L901.1,96.2 L902.1,96.1 L903.1,96.7 L904.1,97.2 L905.1,97.0 L906.1,96.9 L907.1,96.8 L908.1,96.3 L909.1,95.7 L910.1,95.9 L911.1,96.6 L912.1,96.6 L913.1,96.1 L914.1,95.8 L915.1,95.8 L916.1,96.0 L917.1,96.0 L918.1,96.0 L919.1,96.2 L920.1,96.2 L921.1,96.3 L922.1,96.4 L923.1,96.6 L924.1,96.9 L925.1,96.9 L926.1,96.5 L927.1,96.1 L928.1,95.8 L929.1,95.4 L930.1,95.3 L931.1,95.7 L932.1,96.1 L933.1,96.2 L934.1,96.1 L935.1,95.9 L936.1,95.7 L937.1,95.6 L938.1,95.6 L939.1,95.5 L940.1,95.5 L941.1,95.7 L942.1,96.0 L943.1,96.1 L944.1,96.2 L945.1,96.3 L946.1,95.9 L947.1,95.2 L948.1,95.2 L949.1,96.0 L950.1,96.5 L951.1,96.2 L952.1,96.1 L953.1,96.3 L954.1,96.4 L955.1,96.1 L956.1,96.0 L957.1,96.1 L958.1,96.3 L959.1,96.5 L960.2,96.5 L961.2,96.8 L962.2,96.9 L963.2,96.8 L964.2,96.6 L965.1,96.0 L966.1,95.4 L967.1,95.3 L968.1,95.3 L969.1,95.3 L970.1,95.2 L971.1,95.1 L972.1,95.2 L973.1,95.3 L974.1,95.3 L975.1,95.1 L976.1,94.6 L977.1,94.1 L978.1,94.3 L979.1,94.7 L980.1,94.9 L981.1,94.9 L982.1,94.7 L983.1,94.9 L984.2,95.2 L985.1,94.8 L986.1,94.4 L987.1,94.1 L988.1,94.4 L989.1,94.4 L990.0,93.9 L990.9,93.3 L991.9,93.2 L993.0,93.3 L994.0,93.2 L995.0,93.2 L996.0,93.2 L996.5,93.1" fill="none" stroke="#ff0000" stroke-width="3.0" stroke-linecap="round" stroke-linejoin="round"/>
<path d="M996.5,92.2 L996.1,93.2 L995.9,94.1 L995.5,95.1 L994.9,95.9 L994.1,96.6 L993.4,97.3 L992.7,98.0 L991.8,98.5 L991.0,98.9 L990.2,99.6 L989.3,100.1 L988.3,100.4 L987.4,100.9 L986.8,101.7 L986.1,102.5 L985.2,103.0 L984.1,103.0 L983.0,102.7 L982.1,102.9 L981.1,103.5 L980.2,103.8 L979.2,103.8 L978.1,103.8 L977.1,103.9 L976.2,104.3 L975.3,104.8 L974.3,105.0 L973.3,105.0 L972.2,104.8 L971.2,104.7 L970.3,105.1 L969.3,105.4 L968.3,105.4 L967.2,105.1 L966.2,105.0 L965.2,105.2 L964.3,105.6 L963.3,105.9 L962.3,106.2 L961.4,106.7 L960.4,107.0 L959.3,106.8 L958.3,106.6 L957.3,106.6 L956.3,106.5 L955.3,106.5 L954.3,106.5 L953.3,106.7 L952.3,106.8 L951.3,106.5 L950.3,106.4 L949.3,106.6 L948.3,106.8 L947.3,106.9 L946.3,106.9 L945.3,107.3 L944.3,107.3 L943.3,107.0 L942.3,107.0 L941.3,107.0 L940.3,107.2 L939.3,107.2 L938.3,107.3 L937.3,107.6 L936.3,107.9 L935.3,107.9 L934.3,107.7 L933.3,107.6 L932.3,108.0 L931.3,108.4 L930.3,108.4 L929.3,108.2 L928.3,107.8 L927.3,107.4 L926.3,107.5 L925.3,107.7 L924.3,107.7 L923.3,107.9 L922.3,108.1 L921.3,108.3 L920.3,108.5 L919.3,108.7 L918.3,108.8 L917.3,108.7 L916.3,108.3 L915.3,107.7 L914.3,107.5 L913.3,107.9 L912.3,108.4 L911.3,108.6 L910.3,108.7 L909.3,108.9 L908.3,109.0 L907.3,109.1 L906.3,109.0 L905.3,108.7 L904.3,108.7 L903.3,108.8 L902.3,109.0 L901.3,108.9 L900.3,108.7 L899.3,108.9 L898.3,109.0 L897.3,108.7 L896.3,108.7 L895.3,109.0 L894.3,109.1 L893.3,109.0 L892.3,109.1 L891.3,109.1 L890.3,109.2 L889.2,108.9 L888.2,108.6 L887.2,108.7 L886.2,108.5 L885.2,108.4 L884.2,108.9 L883.2,109.3 L882.2,109.2 L881.2,109.0 L880.2,109.0 L879.2,109.2 L878.2,109.5 L877.2,109.4 L876.2,109.2 L875.2,109.2 L874.2,109.4 L873.2,109.4 L872.2,109.3 L871.2,109.3 L870.2,109.2 L869.2,109.2 L868.2,109.3 L867.2,109.3 L866.2,109.4 L865.2,109.5 L864.2,109.5 L863.2,109.5 L862.2,109.5 L861.2,109.6 L860.2,109.7 L859.2,109.5 L858.2,109.4 L857.2,109.3 L856.2,108.9 L855.2,108.9 L854.2,109.1 L853.2,109.3 L852.2,109.3 L851.2,109.3 L850.2,109.3 L849.2,109.2 L848.1,109.2 L847.2,109.5 L846.2,109.8 L845.2,110.1 L844.2,110.2 L843.2,110.1 L842.2,109.7 L841.1,109.6 L840.2,109.8 L839.2,110.3 L838.2,110.7 L837.2,110.8 L836.2,110.8 L835.2,111.0 L834.2,111.0 L833.2,111.0 L832.2,110.9 L831.2,111.0 L830.2,111.1 L829.2,110.9 L828.2,111.0 L827.2,111.3 L826.2,111.7 L825.2,111.8 L824.2,111.8 L823.2,111.9 L822.2,112.1 L821.3,112.2 L820.2,112.2 L819.2,112.3 L818.3,112.4 L817.3,112.5 L816.2,112.4 L815.2,112.4 L814.2,112.5 L813.2,112.7 L812.3,113.0 L811.3,113.4 L810.3,113.7 L809.4,113.9 L808.5,114.3 L807.6,114.7 L806.6,114.9 L805.5,114.7 L804.4,114.6 L803.4,114.7 L802.4,114.9 L801.5,115.1 L800.5,115.4 L799.6,115.9 L798.6,116.3 L797.7,116.7 L796.8,117.1 L795.8,117.1 L794.7,117.1 L793.8,117.5 L792.8,117.8 L791.9,118.1 L791.0,118.5 L790.1,119.0 L789.1,119.4 L788.2,119.7 L787.1,119.7 L786.2,120.0 L785.2,120.2 L784.2,120.4 L783.2,120.6 L782.3,120.9 L781.3,121.2 L780.3,121.3 L779.3,121.4 L778.4,121.8 L777.5,122.3 L776.5,122.6 L775.5,122.6 L774.5,122.6 L773.5,122.9 L772.5,122.9 L771.5,122.7 L770.5,122.8 L769.5,123.3 L768.6,123.8 L767.6,124.2 L766.6,124.3 L765.6,124.4 L764.6,124.5 L763.7,124.7 L762.8,125.2 L761.8,125.4 L760.8,125.5 L759.8,125.7 L758.8,126.0 L757.9,126.3 L757.0,126.7 L756.0,127.0 L755.0,127.2 L754.0,127.5 L753.0,127.6 L752.0,127.6 L751.0,127.9 L750.1,128.4 L749.1,128.5 L748.1,128.3 L747.0,128.2 L746.0,128.4 L745.1,128.7 L744.1,129.1 L743.2,129.4 L742.2,129.5 L741.2,129.7 L740.3,130.4 L739.4,130.9 L738.4,130.9 L737.3,130.7 L736.2,130.5 L735.2,130.7 L734.3,131.1 L733.4,131.5 L732.4,131.7 L731.4,131.9 L730.5,132.3 L729.6,132.8 L728.6,133.1 L727.6,133.4 L726.6,133.5 L725.6,133.5 L724.6,133.7 L723.7,134.0 L722.7,134.3 L721.7,134.5 L720.7,134.6 L719.8,134.9 L718.8,135.2 L717.8,135.3 L716.8,135.4 L715.9,135.8 L715.0,136.3 L714.1,137.0 L713.1,137.3 L712.1,137.3 L711.1,137.4 L710.1,137.7 L709.2,138.0 L708.2,138.3 L707.2,138.4 L706.3,138.8 L705.3,139.1 L704.3,139.2 L703.3,139.1 L702.3,139.3 L701.4,139.8 L700.5,140.3 L699.6,140.7 L698.7,141.3 L697.9,141.8 L696.9,142.2 L695.9,142.3 L694.9,142.4 L694.0,142.9 L693.1,143.4 L692.2,143.9 L691.2,144.1 L690.2,144.4 L689.3,144.7 L688.3,144.9 L687.3,145.0 L686.3,145.3 L685.3,145.4 L684.4,145.8 L683.5,146.3 L682.6,146.8 L681.6,147.1 L680.7,147.4 L679.9,148.2 L679.1,148.8 L678.2,149.2 L677.2,149.5 L676.3,149.8 L675.4,150.2 L674.4,150.6 L673.4,150.9 L672.6,151.4 L671.8,152.0 L671.0,152.7 L670.3,153.4 L669.5,154.1 L668.6,154.5 L667.8,155.2 L667.3,156.1 L666.6,156.8 L665.8,157.4 L665.3,158.2 L665.1,159.3 L664.7,160.2 L663.8,160.8 L662.5,161.2 L661.5,161.5 L661.1,162.3 L660.6,163.3 L659.9,164.0 L659.1,164.6 L658.5,165.5 L658.1,166.4 L657.4,167.1 L656.6,167.8 L655.8,168.4 L655.0,168.9 L654.1,169.3 L653.1,169.4 L652.1,170.0 L651.6,171.0 L651.3,172.0 L650.7,172.8 L650.1,173.6 L649.7,174.5 L649.4,175.5 L649.0,176.5 L648.3,177.2 L647.7,178.1 L647.3,179.0 L646.8,179.8 L646.3,180.7 L645.9,181.6 L645.4,182.5 L644.7,183.1 L643.8,183.7 L642.9,184.1 L642.4,184.7 L642.0,185.5 L641.5,186.3 L640.9,187.2 L640.2,188.0 L639.8,188.9 L639.5,189.8 L638.9,190.7 L638.4,191.5 L638.0,192.4 L637.4,193.3 L636.9,194.1 L636.6,195.1 L636.0,196.0 L635.1,196.5 L634.0,196.9 L633.0,197.2 L632.3,198.0 L632.2,199.1 L631.8,200.0 L631.5,201.0 L631.4,202.0 L631.0,202.9 L630.5,203.8 L630.3,204.8 L630.3,205.8 L630.0,206.8 L629.6,207.7 L629.4,208.7 L629.0,209.6 L628.6,210.6 L628.2,211.5 L627.5,212.3 L626.9,213.1 L626.6,213.8 L625.9,214.3 L625.0,214.8 L624.3,215.8 L624.1,216.8 L624.0,217.9 L624.1,218.9 L624.2,220.0 L624.0,221.0 L623.6,221.9 L623.3,222.9 L623.1,223.8 L622.7,224.8 L622.0,225.6 L621.5,226.5 L621.2,227.5 L621.0,228.5 L620.9,229.5 L620.9,230.5 L620.5,231.5 L620.2,232.4 L620.2,233.4 L620.2,234.5 L619.9,235.4 L619.2,236.3 L618.7,237.2 L618.6,238.2 L618.6,239.2 L618.5,240.2 L618.2,241.2 L617.7,242.1 L617.5,243.1 L617.5,244.1 L617.2,245.1 L616.7,246.0 L616.6,247.0 L616.4,248.0 L616.1,248.9 L616.2,250.0 L616.5,251.0 L616.3,252.0 L615.9,253.0 L615.5,253.9 L615.3,254.9 L615.2,255.9 L615.2,256.9 L615.2,257.9 L615.1,258.9 L614.9,259.9 L614.5,260.9 L614.4,261.9 L614.5,262.9 L614.5,263.9 L614.4,264.4" fill="none" stroke="#ff0000" stroke-width="3.0" stroke-linecap="round" stroke-linejoin="round"/>
<path d="M614.0,232.0 L614.1,231.0 L614.2,230.0 L614.1,229.0 L613.9,228.0 L613.8,227.0 L613.8,226.0 L614.0,225.0 L614.3,224.0 L614.2,223.0 L613.9,222.0 L614.0,221.0 L614.3,220.0 L614.4,219.0 L614.4,218.0 L614.4,217.0 L614.4,216.0 L614.5,215.0 L614.8,214.0 L615.0,213.0 L614.9,212.0 L615.0,211.0 L615.3,210.0 L615.5,209.1 L615.4,208.0 L615.3,207.0 L615.2,206.0 L615.4,205.0 L615.9,204.1 L616.1,203.1 L615.9,202.1 L615.8,201.0 L615.9,200.0 L615.9,199.0 L615.7,198.0 L616.0,197.0 L616.2,196.0 L616.0,195.0 L616.1,194.0 L616.4,193.0 L616.8,192.1 L617.1,191.1 L617.0,190.1 L616.7,189.1 L616.5,188.0 L616.6,187.0 L616.6,186.0 L616.7,185.0 L616.9,184.0 L617.1,183.1 L617.1,182.1 L617.1,181.1 L617.3,180.1 L617.5,179.1 L617.5,178.1 L617.4,177.1 L617.2,176.0 L617.1,175.0 L617.4,174.1 L617.8,173.1 L617.8,172.1 L617.5,171.0 L617.1,170.0 L617.0,169.0 L617.2,168.0 L617.6,167.0 L618.0,166.1 L618.6,165.1 L619.2,164.1 L619.3,163.1 L619.3,162.1 L618.9,161.1 L618.5,160.1 L618.4,159.1 L618.5,158.1 L618.7,157.1 L618.9,156.1 L619.2,155.1 L619.3,154.1 L619.1,153.1 L619.2,152.1 L619.4,151.1 L619.5,150.1 L619.5,149.1 L619.5,148.1 L619.8,147.1 L620.1,146.1 L620.2,145.1 L620.0,144.1 L620.0,143.1 L620.2,142.1 L620.3,141.1 L620.3,140.1 L620.4,139.1 L620.6,138.1 L621.0,137.2 L621.3,136.2 L621.4,135.2 L621.5,134.2 L621.7,133.2 L621.6,132.2 L621.4,131.2 L621.7,130.2 L622.2,129.3 L622.4,128.3 L622.3,127.3 L622.2,126.2 L622.4,125.3 L622.6,124.3 L622.7,123.3 L622.8,122.3 L623.2,121.3 L623.4,120.3 L623.6,119.3 L623.8,118.4 L623.9,117.4 L624.0,116.4 L624.2,115.4 L624.2,114.4 L624.2,113.3 L624.5,112.4 L624.8,111.4 L624.8,110.4 L625.0,109.4 L625.4,108.5 L626.1,107.6 L626.6,106.7 L626.8,105.7 L626.8,104.7 L626.8,103.7 L626.9,102.7 L627.1,101.7 L627.3,100.7 L627.8,99.8 L628.1,98.8 L628.2,97.8 L628.3,96.8 L628.7,95.9 L629.0,95.0 L629.3,94.0 L629.4,93.0 L629.8,92.0 L630.2,91.1 L630.4,90.1 L630.6,89.1 L630.9,88.2 L631.3,87.3 L632.0,86.4 L632.6,85.6 L633.2,84.9 L634.0,84.3 L634.7,83.5 L635.2,82.6 L635.6,81.7 L636.2,80.8 L637.0,80.2 L637.7,79.5 L638.4,78.8 L638.8,77.9 L639.3,77.0 L640.0,76.3 L640.9,75.8 L641.9,75.5 L642.9,75.5 L643.9,75.4 L644.9,75.3 L645.9,75.2 L646.9,74.9 L647.8,74.5 L648.8,74.1 L649.8,73.9 L650.8,73.8 L651.8,73.8 L652.8,73.9 L653.8,74.2 L654.8,74.5 L655.8,74.6 L656.8,74.4 L657.8,74.1 L658.8,74.1 L659.8,74.2 L660.8,74.4 L661.7,74.9 L662.7,74.9 L663.8,74.8 L664.8,74.9 L665.7,75.2 L666.7,75.5 L667.7,75.7 L668.6,75.8 L669.6,76.2 L670.4,76.8 L671.4,77.1 L672.5,77.0 L673.5,77.0 L674.4,77.4 L675.4,77.8 L676.3,78.1 L677.2,78.6 L678.2,78.9 L679.2,79.1 L680.1,79.3 L681.2,79.4 L682.2,79.4 L683.2,79.6 L684.2,79.7 L685.1,80.0 L686.0,80.6 L686.9,81.2 L687.9,81.5 L688.8,81.7 L689.8,82.0 L690.8,82.1 L691.8,82.2 L692.8,82.3 L693.8,82.0 L694.8,81.9 L695.8,82.2 L696.8,82.3 L697.8,82.2 L698.8,82.1 L699.8,82.4 L700.8,82.7 L701.8,82.7 L702.8,82.8 L703.8,83.0 L704.8,82.9 L705.8,82.7 L706.8,82.6 L707.8,82.6 L708.8,82.9 L709.8,83.1 L710.8,83.2 L711.8,83.2 L712.8,83.3 L713.8,83.6 L714.8,83.9 L715.7,84.1 L716.8,84.1 L717.8,84.0 L718.8,84.0 L719.8,84.0 L720.8,83.8 L721.7,83.5 L722.7,83.3 L723.8,83.0 L724.8,83.0 L725.8,83.2 L726.7,83.7 L727.7,84.1 L728.7,84.3 L729.7,84.1 L730.7,83.8 L731.7,83.8 L732.7,83.9 L733.7,84.0 L734.7,84.1 L735.7,83.9 L736.7,83.7 L737.7,83.8 L738.7,83.8 L739.8,83.8 L740.8,83.8 L741.8,83.9 L742.8,84.0 L743.8,84.0 L744.8,84.2 L745.8,84.2 L746.8,83.9 L747.8,83.7 L748.7,83.3 L749.7,82.9 L750.7,82.9 L751.7,83.1 L752.7,82.8 L753.6,82.2 L754.6,82.1 L755.6,82.2 L756.6,82.2 L757.6,82.3 L758.6,82.5 L759.6,82.7 L760.6,82.8 L761.6,83.0 L762.6,83.1 L763.6,83.0 L764.6,83.0 L765.6,82.9 L766.6,83.0 L767.6,83.4 L768.6,83.6 L769.6,83.8 L770.6,83.6 L771.6,83.3 L772.7,83.0 L773.7,82.9 L774.7,83.0 L775.7,83.4 L776.6,83.8 L777.6,84.2 L778.5,84.6 L779.6,84.5 L780.6,84.3 L781.6,84.5 L782.6,85.0 L783.5,85.3 L784.4,85.9 L785.2,86.6 L786.2,87.0 L787.2,87.0 L788.2,87.1 L789.1,87.5 L790.1,87.9 L791.0,88.1 L792.0,88.4 L793.0,88.5 L794.0,88.8 L794.9,89.1 L795.9,89.2 L796.9,89.4 L797.9,89.7 L798.9,89.9 L799.9,90.0 L800.9,90.1 L801.9,90.3 L802.9,90.3 L803.9,90.2 L804.9,90.4 L805.9,90.5 L806.8,90.8 L807.7,91.5 L808.7,91.9 L809.7,91.9 L810.7,92.1 L811.6,92.4 L812.6,92.5 L813.6,92.6 L814.6,92.9 L815.6,92.9 L816.6,93.1 L817.6,93.5 L818.5,93.9 L819.5,93.9 L820.6,93.6 L821.6,93.7 L822.5,94.0 L823.5,94.0 L824.5,94.0 L825.5,94.4 L826.5,94.7 L827.5,94.3 L828.5,94.1 L829.5,94.4 L830.5,94.8 L831.5,95.0 L832.5,95.2 L833.5,95.3 L834.5,95.3 L835.5,95.3 L836.5,95.4 L837.5,95.7 L838.4,96.0 L839.4,96.2 L840.4,96.3 L841.4,96.3 L842.4,96.2 L843.5,96.0 L844.4,96.1 L845.4,96.2 L846.5,96.1 L847.5,96.1 L848.5,96.0 L849.5,96.1 L850.5,96.3 L851.4,96.5 L852.5,96.5 L853.5,96.5 L854.4,96.6 L855.5,96.6 L856.4,96.8 L857.4,97.1 L858.4,97.0 L859.4,96.9 L860.4,97.1 L861.4,97.3 L862.4,97.3 L863.4,97.4 L864.4,97.2 L865.4,97.0 L866.4,97.2 L867.4,97.4 L868.4,97.4 L869.4,97.3 L870.5,97.0 L871.5,97.0 L872.5,97.4 L873.4,97.8 L874.4,97.9 L875.4,97.8 L876.5,97.5 L877.5,97.5 L878.5,97.7 L879.5,97.6 L880.5,97.6 L881.5,97.7 L882.5,98.0 L883.5,98.1 L884.5,97.5 L885.4,96.8 L886.5,96.9 L887.5,96.9 L888.5,96.9 L889.5,97.2 L890.5,97.5 L891.5,97.2 L892.5,96.9 L893.5,96.9 L894.5,96.8 L895.5,96.5 L896.4,96.2 L897.5,96.5 L898.5,96.8 L899.5,96.9 L900.5,96.6 L901.5,96.4 L902.5,96.4 L903.5,96.2 L904.5,96.2 L905.5,96.2 L906.5,96.3 L907.5,96.5 L908.5,96.5 L909.5,96.2 L910.5,96.1 L911.5,96.3 L912.5,96.4 L913.5,96.0 L914.5,95.8 L915.5,95.7 L916.5,95.7 L917.5,95.8 L918.5,95.8 L919.5,95.9 L920.5,95.7 L921.5,95.3 L922.5,95.2 L923.5,95.2 L924.5,95.0 L925.4,94.9 L926.4,94.7 L927.4,94.2 L928.4,94.0 L929.3,94.1 L930.4,94.2 L931.4,94.2 L932.3,93.9 L933.3,93.6 L934.3,93.6 L935.3,93.7 L936.3,93.5 L937.2,93.2 L938.3,93.1 L939.3,93.2 L940.3,93.4 L941.2,93.7 L942.1,94.1 L943.1,94.5 L944.0,94.8 L945.0,94.9 L946.0,95.1 L947.0,95.2 L948.0,95.2 L949.0,95.2 L950.0,95.0 L951.1,94.8 L952.1,95.0 L953.0,95.4 L954.0,95.5 L955.0,95.4 L956.0,95.4 L957.1,95.2 L958.1,95.0 L959.1,95.0 L960.1,95.3 L961.1,95.6 L962.1,95.4 L963.1,95.1 L964.1,94.9 L965.1,95.1 L966.1,95.2 L967.1,95.4 L968.1,95.5 L969.1,95.0 L970.0,94.4 L971.0,94.2 L972.0,94.0 L973.0,93.9 L974.0,94.1 L975.0,94.3 L976.0,94.2 L977.0,94.1 L978.0,94.1 L979.0,94.1 L980.0,93.9 L981.0,93.6 L982.0,93.3 L983.0,93.0 L984.0,93.2 L985.0,93.6 L986.0,93.7 L987.0,93.2 L988.0,93.1 L989.0,93.3 L990.0,93.2 L991.0,93.0 L992.0,92.9 L993.0,92.9 L994.0,93.0 L995.0,92.8 L996.0,92.6 L996.5,92.5" fill="none" stroke="#00ff00" stroke-width="3.0" stroke-linecap="round" stroke-linejoin="round"/>
<path d="M996.5,92.5 L996.9,93.4 L997.2,94.3 L997.2,95.3 L996.7,96.1 L996.2,96.9 L995.7,97.7 L995.2,98.6 L994.6,99.4 L993.9,100.1 L993.3,100.8 L992.7,101.6 L991.9,102.1 L990.9,102.5 L990.1,103.0 L989.2,103.6 L988.3,104.0 L987.5,104.5 L986.6,105.1 L985.7,105.4 L984.6,105.5 L983.7,105.6 L982.7,105.8 L981.7,106.0 L980.7,106.2 L979.7,106.2 L978.7,106.1 L977.7,106.1 L976.7,106.1 L975.7,106.4 L974.7,106.6 L973.7,106.8 L972.7,107.0 L971.7,107.2 L970.7,107.3 L969.7,106.9 L968.7,106.7 L967.7,107.0 L966.7,107.3 L965.7,107.4 L964.7,107.4 L963.7,107.4 L962.7,107.5 L961.7,107.5 L960.7,107.6 L959.7,107.6 L958.7,107.5 L957.7,107.3 L956.7,107.3 L955.7,107.6 L954.7,107.9 L953.7,108.0 L952.7,108.2 L951.7,108.2 L950.7,108.2 L949.7,108.1 L948.7,108.0 L947.7,107.9 L946.7,107.8 L945.7,107.9 L944.7,108.0 L943.7,108.2 L942.7,108.4 L941.7,108.5 L940.7,108.5 L939.7,108.4 L938.7,108.3 L937.7,108.3 L936.7,108.4 L935.7,108.6 L934.7,108.8 L933.7,109.0 L932.7,108.8 L931.7,108.7 L930.7,108.7 L929.7,108.6 L928.7,108.3 L927.7,108.1 L926.7,108.2 L925.7,108.5 L924.7,108.7 L923.7,108.7 L922.7,108.7 L921.7,108.7 L920.7,108.7 L919.7,108.7 L918.7,108.7 L917.7,108.9 L916.7,109.0 L915.7,108.9 L914.7,108.7 L913.7,108.8 L912.7,108.9 L911.7,108.9 L910.6,108.8 L909.6,108.6 L908.6,108.5 L907.6,108.9 L906.6,109.3 L905.6,109.1 L904.6,108.9 L903.6,108.8 L902.6,108.7 L901.6,108.7 L900.6,108.8 L899.6,109.0 L898.6,109.2 L897.6,109.3 L896.6,109.0 L895.6,108.7 L894.6,108.9 L893.6,109.2 L892.6,109.2 L891.6,109.0 L890.6,108.9 L889.6,109.0 L888.6,109.2 L887.6,109.1 L886.6,109.0 L885.6,109.1 L884.6,109.2 L883.6,109.2 L882.6,109.1 L881.6,109.1 L880.6,109.0 L879.6,108.8 L878.6,108.8 L877.6,109.0 L876.6,108.7 L875.6,108.6 L874.6,108.8 L873.6,109.2 L872.6,109.1 L871.6,109.0 L870.6,109.1 L869.6,109.0 L868.6,108.8 L867.6,108.9 L866.6,109.0 L865.6,109.1 L864.6,109.2 L863.6,109.2 L862.6,109.3 L861.6,109.4 L860.6,109.3 L859.6,109.4 L858.6,109.6 L857.6,109.8 L856.6,109.8 L855.6,109.7 L854.6,109.5 L853.6,109.5 L852.6,109.7 L851.6,109.9 L850.6,109.9 L849.6,109.9 L848.6,109.9 L847.5,109.7 L846.5,109.6 L845.5,109.7 L844.5,109.7 L843.5,109.9 L842.6,110.3 L841.6,110.5 L840.6,110.5 L839.5,110.3 L838.5,110.1 L837.5,110.0 L836.5,110.1 L835.5,110.2 L834.5,110.5 L833.5,110.6 L832.5,110.6 L831.5,110.5 L830.5,110.5 L829.5,110.8 L828.6,111.0 L827.6,111.0 L826.5,111.0 L825.6,111.1 L824.5,111.0 L823.5,111.0 L822.5,111.2 L821.5,111.2 L820.5,111.3 L819.5,111.4 L818.6,111.5 L817.5,111.6 L816.5,111.6 L815.6,111.9 L814.6,112.1 L813.6,112.3 L812.6,112.4 L811.6,112.4 L810.6,112.4 L809.6,112.7 L808.7,112.9 L807.7,113.0 L806.7,113.2 L805.7,113.4 L804.7,113.4 L803.7,113.6 L802.7,113.9 L801.8,114.2 L800.8,114.4 L799.8,114.5 L798.8,114.5 L797.8,114.8 L796.9,115.1 L795.9,115.5 L795.0,115.9 L794.1,116.3 L793.2,116.7 L792.2,117.0 L791.2,117.3 L790.3,117.7 L789.3,117.9 L788.3,118.1 L787.4,118.4 L786.4,118.6 L785.4,118.7 L784.4,118.7 L783.4,119.1 L782.4,119.4 L781.4,119.5 L780.5,119.7 L779.5,119.9 L778.5,120.2 L777.6,120.6 L776.6,120.9 L775.6,121.0 L774.7,121.3 L773.7,121.5 L772.6,121.5 L771.6,121.5 L770.6,121.5 L769.6,121.6 L768.6,121.8 L767.7,122.3 L766.8,122.6 L765.8,122.8 L764.8,123.2 L763.9,123.7 L762.9,123.7 L761.9,123.7 L760.9,123.9 L759.9,124.2 L759.0,124.5 L758.0,124.8 L757.1,125.1 L756.1,125.4 L755.1,125.7 L754.2,126.0 L753.2,126.4 L752.3,126.7 L751.2,126.6 L750.2,126.4 L749.1,126.4 L748.2,126.7 L747.2,127.1 L746.2,127.2 L745.3,127.4 L744.3,127.8 L743.4,128.1 L742.4,128.4 L741.4,128.4 L740.4,128.4 L739.3,128.5 L738.4,128.7 L737.4,129.0 L736.4,129.3 L735.5,129.6 L734.5,129.9 L733.5,130.1 L732.6,130.4 L731.6,130.7 L730.7,131.1 L729.7,131.4 L728.8,131.7 L727.8,131.9 L726.8,131.9 L725.8,132.1 L724.8,132.4 L723.9,132.7 L722.9,133.0 L721.9,133.2 L720.9,133.3 L719.9,133.4 L718.9,133.6 L718.0,134.0 L717.1,134.5 L716.1,134.7 L715.1,134.7 L714.1,134.9 L713.1,135.1 L712.1,135.4 L711.1,135.5 L710.1,135.6 L709.2,135.8 L708.2,136.2 L707.3,136.6 L706.3,136.9 L705.4,137.2 L704.4,137.4 L703.4,137.7 L702.5,138.0 L701.6,138.4 L700.6,138.6 L699.6,138.8 L698.6,139.1 L697.6,139.2 L696.6,139.4 L695.8,140.0 L694.9,140.7 L693.9,141.0 L692.9,140.9 L691.9,141.1 L691.0,141.5 L690.0,141.7 L689.0,141.9 L688.0,142.0 L687.0,142.1 L686.0,142.4 L685.2,143.1 L684.3,143.5 L683.3,143.7 L682.4,144.1 L681.5,144.6 L680.5,145.0 L679.5,145.2 L678.6,145.6 L677.8,146.2 L677.0,146.8 L676.1,147.2 L675.1,147.5 L674.3,148.1 L673.4,148.5 L672.4,148.9 L671.5,149.3 L670.7,149.9 L670.0,150.7 L669.2,151.3 L668.3,151.7 L667.4,152.2 L666.5,152.7 L665.6,153.0 L664.8,153.6 L664.2,154.5 L663.5,155.3 L662.7,155.8 L661.8,156.3 L661.1,157.0 L660.4,157.8 L659.7,158.5 L659.0,159.1 L658.4,159.9 L657.8,160.8 L657.3,161.6 L656.6,162.4 L655.9,163.1 L655.3,163.9 L654.7,164.7 L653.9,165.4 L653.1,166.0 L652.2,166.4 L651.2,166.7 L650.1,167.0 L649.4,167.7 L648.7,168.5 L647.9,169.1 L647.1,169.7 L646.3,170.2 L645.4,170.7 L644.6,171.3 L643.9,172.0 L643.1,172.6 L642.2,173.2 L641.5,173.8 L640.8,174.6 L640.2,175.4 L639.6,176.2 L639.0,177.0 L638.4,177.9 L637.9,178.7 L637.3,179.5 L636.7,180.3 L636.1,181.1 L635.5,181.9 L634.9,182.7 L634.5,183.6 L634.2,184.6 L633.7,185.5 L633.1,186.3 L632.5,187.1 L632.1,188.1 L631.8,189.0 L631.4,189.9 L631.0,190.8 L630.6,191.8 L630.1,192.7 L629.7,193.5 L629.4,194.5 L629.0,195.5 L628.5,196.3 L627.8,197.1 L627.3,198.0 L627.0,198.9 L626.7,199.9 L626.3,200.8 L625.8,201.7 L625.3,202.6 L624.9,203.5 L624.4,204.4 L624.1,205.3 L623.9,206.3 L623.5,207.2 L623.0,208.1 L622.5,209.0 L622.1,209.9 L621.8,210.8 L621.4,211.8 L620.9,212.7 L620.5,213.6 L620.3,214.6 L620.0,215.5 L619.7,216.5 L619.5,217.5 L619.2,218.5 L618.9,219.4 L618.4,220.3 L617.9,221.2 L617.4,222.1 L616.9,223.0 L616.8,224.0 L616.8,225.0 L616.7,226.0 L616.3,226.9 L615.6,227.8 L615.1,228.7 L614.9,229.7 L614.6,230.6 L614.2,231.5 L614.0,232.0" fill="none" stroke="#00ff00" stroke-width="3.0" stroke-linecap="round" stroke-linejoin="round"/>
<line x1="968" y1="107" x2="968" y2="101" stroke="#00ff00" stroke-width="2"/>
<line x1="778.2" y1="59.5" x2="778.2" y2="68" stroke="#3a3ab4" stroke-width="1.2"/>
<path d="M775.9,65.5 L780.5,65.5 L778.2,75 Z" fill="#0000a0"/>
<line x1="655.4" y1="182" x2="655.4" y2="231.8" stroke="#6464c8" stroke-width="1.3"/>
<path d="M653.2,183 L657.6,183 L655.4,174.4 Z" fill="#0000a0"/>
<line x1="870" y1="229.9" x2="912" y2="229.9" stroke="#000" stroke-width="3"/>
<line x1="870" y1="256" x2="912" y2="256" stroke="#ff0000" stroke-width="3"/>
<line x1="870" y1="281.9" x2="912" y2="281.9" stroke="#00ff00" stroke-width="3"/>
<text transform="translate(5.00,28.00) scale(1.000,1)" font-size="27.00" font-weight="bold">(a)</text>
<text transform="translate(521.00,32.60) scale(1.000,1)" font-size="30.00" font-weight="bold">(b)</text>
<text transform="translate(145.00,61.00) scale(0.990,1)" font-size="19.50">5 C</text>
<text transform="translate(174.00,41.60) scale(1.000,1)" font-size="19.50">2 C</text>
<text transform="translate(192.00,24.80) scale(0.950,1)" font-size="19.50">1 C</text>
<text transform="translate(210.50,44.80) scale(0.965,1)" font-size="19.50">0.5 C</text>
<text transform="translate(294.00,278.80) scale(1.000,1)" font-size="21.50">0.1 C</text>
<text transform="translate(442.50,309.50) scale(0.930,1)" font-size="20.00">1st</text>
<text transform="translate(258.50,318.20) scale(0.900,1)" font-size="17.50">15th</text>
<text transform="translate(223.30,331.00) scale(0.945,1)" font-size="18.00">90th</text>
<text transform="translate(769.60,56.90) scale(1.000,1)" font-size="14.50" style="fill:#1a1aa6">1.3</text>
<text transform="translate(643.00,244.60) scale(1.000,1)" font-size="14.50" style="fill:#1a1aa6">0.31</text>
<text transform="translate(917.00,236.10) scale(0.950,1)" font-size="18.00">1<tspan dy="-8.5" font-size="12">st</tspan><tspan dy="8.5"> cycle</tspan></text>
<text transform="translate(917.00,262.20) scale(0.950,1)" font-size="18.00">2<tspan dy="-8.5" font-size="12">nd</tspan><tspan dy="8.5"> cycle</tspan></text>
<text transform="translate(917.00,288.10) scale(0.950,1)" font-size="18.00">3<tspan dy="-8.5" font-size="12">th</tspan><tspan dy="8.5"> cycle</tspan></text>
<text transform="translate(199.50,392.80) scale(0.940,1)" font-size="24.00" font-weight="bold">Capacity (mA g<tspan dy="-12" font-size="14">-1</tspan><tspan dy="12">)</tspan></text>
<text transform="translate(682.00,396.90) scale(1.000,1)" font-size="24.70" font-weight="bold">Potential (V vs Li<tspan dy="-13.8" font-size="26" font-weight="normal">+</tspan><tspan dy="13.8">/Li)</tspan></text>
<text transform="translate(29.00,242.50) rotate(-90) scale(1.000,1)" font-size="24.00" font-weight="bold">Potential (V)</text>
<text transform="translate(545.50,322.00) rotate(-90) scale(1.000,1)" font-size="25.70" font-weight="bold">Current density (mA g</text>
<text transform="translate(533.30,68.00) rotate(-90) scale(1.000,1)" font-size="25.00" font-weight="bold">1</text>
<text transform="translate(532.50,76.50) rotate(-90) scale(1.000,1)" font-size="24.00" font-weight="bold">-</text>
<text transform="translate(546.00,55.50) rotate(-90) scale(1.000,1)" font-size="25.70" font-weight="bold">)</text>
</svg>
</body></html>
